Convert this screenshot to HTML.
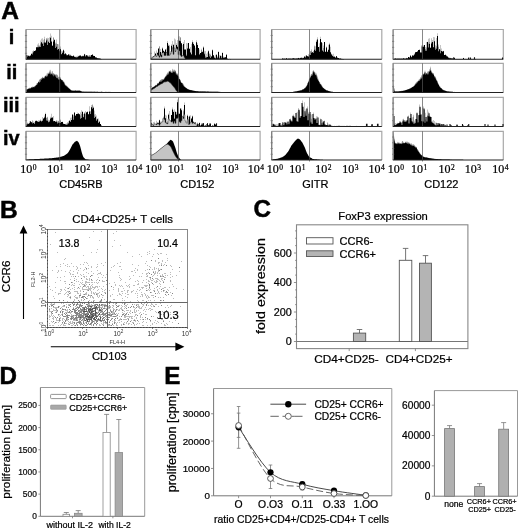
<!DOCTYPE html>
<html><head><meta charset="utf-8"><style>
html,body{margin:0;padding:0;background:#fff;}
svg{display:block;will-change:transform;}
text{font-family:"Liberation Sans", sans-serif;}
text:not([stroke]){stroke:#000;stroke-width:0.22px;}
text[fill="#333"]{stroke:none;}
text.sf{font-family:"Liberation Serif", serif;}
</style></head><body>
<svg width="520" height="529" viewBox="0 0 520 529">
<rect width="520" height="529" fill="#fff"/>
<path d="M25.7 29.5H136.1V59.3" fill="none" stroke="#a8a8a8" stroke-width="1.2"/>
<path d="M26 59.3L26 56.2L26.5 56.2L26.5 56.24L27 56.24L27 55.24L27.5 55.24L27.5 55.02L28 55.02L28 55.66L28.5 55.66L28.5 56.35L29 56.35L29 56.87L29.5 56.87L29.5 55.5L30 55.5L30 56.61L30.5 56.61L30.5 55.88L31 55.88L31 55.05L31.5 55.05L31.5 54.11L32 54.11L32 51.32L32.5 51.32L32.5 52.89L33 52.89L33 50.79L33.5 50.79L33.5 50.4L34 50.4L34 51.49L34.5 51.49L34.5 51.09L35 51.09L35 50.38L35.5 50.38L35.5 51.5L36 51.5L36 48.72L36.5 48.72L36.5 50.79L37 50.79L37 47.38L37.5 47.38L37.5 44.44L38 44.44L38 43.33L38.5 43.33L38.5 45.51L39 45.51L39 46.08L39.5 46.08L39.5 45.24L40 45.24L40 43.53L40.5 43.53L40.5 40.61L41 40.61L41 46.34L41.5 46.34L41.5 38.8L42 38.8L42 38.13L42.5 38.13L42.5 43.31L43 43.31L43 39.77L43.5 39.77L43.5 42.41L44 42.41L44 38.94L44.5 38.94L44.5 36.83L45 36.83L45 42.83L45.5 42.83L45.5 42.18L46 42.18L46 38.3L46.5 38.3L46.5 38.38L47 38.38L47 37.8L47.5 37.8L47.5 39.6L48 39.6L48 42.91L48.5 42.91L48.5 37.94L49 37.94L49 37.33L49.5 37.33L49.5 42.92L50 42.92L50 37.8L50.5 37.8L50.5 33.49L51 33.49L51 35.81L51.5 35.81L51.5 40.96L52 40.96L52 45.17L52.5 45.17L52.5 45.18L53 45.18L53 37.63L53.5 37.63L53.5 37.22L54 37.22L54 44.69L54.5 44.69L54.5 40.83L55 40.83L55 42.56L55.5 42.56L55.5 43.63L56 43.63L56 39.58L56.5 39.58L56.5 43.48L57 43.48L57 44.11L57.5 44.11L57.5 43.94L58 43.94L58 44.28L58.5 44.28L58.5 48.89L59 48.89L59 48.36L59.5 48.36L59.5 50.19L60 50.19L60 46.41L60.5 46.41L60.5 48.7L61 48.7L61 50.69L61.5 50.69L61.5 53.94L62 53.94L62 50.98L62.5 50.98L62.5 52.87L63 52.87L63 49.3L63.5 49.3L63.5 52.11L64 52.11L64 54.28L64.5 54.28L64.5 51.01L65 51.01L65 53.53L65.5 53.53L65.5 54.35L66 54.35L66 53.98L66.5 53.98L66.5 54.05L67 54.05L67 54.94L67.5 54.94L67.5 55.44L68 55.44L68 54.76L68.5 54.76L68.5 54.2L69 54.2L69 53.88L69.5 53.88L69.5 56.18L70 56.18L70 54.58L70.5 54.58L70.5 55.93L71 55.93L71 55.31L71.5 55.31L71.5 56.52L72 56.52L72 56.4L72.5 56.4L72.5 56.26L73 56.26L73 55.78L73.5 55.78L73.5 55.53L74 55.53L74 56.7L74.5 56.7L74.5 55.9L75 55.9L75 56.63L75.5 56.63L75.5 56.67L76 56.67L76 56.97L76.5 56.97L76.5 56.31L77 56.31L77 55.85L77.5 55.85L77.5 57.02L78 57.02L78 56.01L78.5 56.01L78.5 55.64L79 55.64L79 55.5L79.5 55.5L79.5 56.58L80 56.58L80 55.92L80.5 55.92L80.5 56.35L81 56.35L81 56.35L81.5 56.35L81.5 56.41L82 56.41L82 55.5L82.5 55.5L82.5 56.32L83 56.32L83 55.58L83.5 55.58L83.5 56.08L84 56.08L84 53.8L84.5 53.8L84.5 56.26L85 56.26L85 55.68L85.5 55.68L85.5 54.74L86 54.74L86 55.44L86.5 55.44L86.5 55.1L87 55.1L87 54.97L87.5 54.97L87.5 55.25L88 55.25L88 56.57L88.5 56.57L88.5 55.62L89 55.62L89 55.42L89.5 55.42L89.5 55.04L90 55.04L90 56.45L90.5 56.45L90.5 54.99L91 54.99L91 55.57L91.5 55.57L91.5 55.07L92 55.07L92 54.3L92.5 54.3L92.5 54.27L93 54.27L93 55.14L93.5 55.14L93.5 56.04L94 56.04L94 56.9L94.5 56.9L94.5 55.89L95 55.89L95 57.1L95.5 57.1L95.5 57.37L96 57.37L96 57.34L96.5 57.34L96.5 57.49L97 57.49L97 57.9L97.5 57.9L97.5 58.39L98 58.39L98 58.12L98.5 58.12L98.5 58.26L99 58.26L99 58.65L99.5 58.65L99.5 58.46L100 58.46L100 58.73L100.5 58.73L100.5 58.66L101 58.66L101 58.94L101.5 58.94L101.5 59.3 Z" fill="#8c8c8c"/>
<path d="M26 59.3L26 54.94L27 54.94L27 56.58L28 56.58L28 55.79L29 55.79L29 56.19L30 56.19L30 55.44L31 55.44L31 53.8L32 53.8L32 54.44L33 54.44L33 52.25L34 52.25L34 51.05L35 51.05L35 50.39L36 50.39L36 47.22L37 47.22L37 47.21L38 47.21L38 47.16L39 47.16L39 46.96L40 46.96L40 47.03L41 47.03L41 42.2L42 42.2L42 43.65L43 43.65L43 45.94L44 45.94L44 42.41L45 42.41L45 42.71L46 42.71L46 40.4L47 40.4L47 45.04L48 45.04L48 41.73L49 41.73L49 42.93L50 42.93L50 37.7L51 37.7L51 41.85L52 41.85L52 46.03L53 46.03L53 41.52L54 41.52L54 39.84L55 39.84L55 48.11L56 48.11L56 46.69L57 46.69L57 49.85L58 49.85L58 49.05L59 49.05L59 51.27L60 51.27L60 49.17L61 49.17L61 54.19L62 54.19L62 52.63L63 52.63L63 50.3L64 50.3L64 54.28L65 54.28L65 53.45L66 53.45L66 55.13L67 55.13L67 55.16L68 55.16L68 54.59L69 54.59L69 55.41L70 55.41L70 55.49L71 55.49L71 55.94L72 55.94L72 56.35L73 56.35L73 55.69L74 55.69L74 56.95L75 56.95L75 57.17L76 57.17L76 57.54L77 57.54L77 57.29L78 57.29L78 56.53L79 56.53L79 55.73L80 55.73L80 55.41L81 55.41L81 56.42L82 56.42L82 56.34L83 56.34L83 56.22L84 56.22L84 54.35L85 54.35L85 56.47L86 56.47L86 55.29L87 55.29L87 56.16L88 56.16L88 56.75L89 56.75L89 56.67L90 56.67L90 56.65L91 56.65L91 55.08L92 55.08L92 54.8L93 54.8L93 55.99L94 55.99L94 55.97L95 55.97L95 57.41L96 57.41L96 57.87L97 57.87L97 58.13L98 58.13L98 58.59L99 58.59L99 58.44L100 58.44L100 58.84L101 58.84L101 58.99L101.5 58.99L101.5 59.3 Z" fill="#000"/>
<path d="M59.7 29.5V59.3" stroke="#555" stroke-width="0.7" fill="none"/>
<path d="M26 29.5V59.3" fill="none" stroke="#808080" stroke-width="1.4"/>
<path d="M25.7 59.3H136.1" fill="none" stroke="#222" stroke-width="1.1"/>
<path d="M24.9 35.46h2.2M24.9 41.42h2.2M24.9 47.38h2.2M24.9 53.34h2.2" stroke="#777" stroke-width="0.8"/>
<path d="M25.7 63.3H136.1V92.5" fill="none" stroke="#a8a8a8" stroke-width="1.2"/>
<path d="M26 92.5L26 89.51L26.5 89.37L27 89.02L27.5 89.04L28 88.56L28.5 88.83L29 88.05L29.5 87.79L30 87.8L30.5 87.68L31 87.88L31.5 87.14L32 86.79L32.5 86.48L33 86.92L33.5 86.94L34 86.1L34.5 86.27L35 86.03L35.5 85.25L36 85.42L36.5 83.74L37 83.03L37.5 83.24L38 82.38L38.5 81.43L39 80.46L39.5 79.48L40 79.37L40.5 78.96L41 78.27L41.5 77.91L42 77.75L42.5 76.6L43 77.46L43.5 77.89L44 77.01L44.5 76.52L45 76.27L45.5 75.72L46 75.54L46.5 75.4L47 72.46L47.5 73.33L48 74.65L48.5 73.33L49 71.97L49.5 71.5L50 69.58L50.5 70.15L51 72.93L51.5 73.7L52 70.66L52.5 71.33L53 73.81L53.5 73.28L54 72.97L54.5 75.07L55 73.91L55.5 74.68L56 74.83L56.5 74.02L57 75.3L57.5 74.58L58 76.24L58.5 77.76L59 76.36L59.5 76.73L60 77.21L60.5 77.33L61 78.66L61.5 79.88L62 80.05L62.5 79.89L63 80.13L63.5 81.73L64 81.53L64.5 82.38L65 83.55L65.5 85.11L66 85.65L66.5 85.1L67 86.51L67.5 86.59L68 86.98L68.5 87.54L69 87.86L69.5 88.93L70 88.73L70.5 89.49L71 89.94L71.5 90.52L72 90.53L72.5 90.31L73 90.69L73.5 90.43L74 90.65L74.5 90.7L75 90.31L75.5 90.39L76 90.41L76.5 90.31L77 90.35L77.5 90.36L78 90.6L78.5 90.33L79 90.55L79.5 90.49L80 90.57L80.5 91.02L81 91.12L81.5 91.35L82 91.48L82.5 91.64L83 91.61L83.5 91.62L84 91.6L84.5 91.63L85 91.68L85.5 91.69L86 91.57L86.5 91.71L87 91.67L87.5 91.72L88 91.69L88.5 91.73L89 91.73L89.5 91.63L90 91.77L90.5 91.68L91 91.78L91.5 91.68L92 91.65L92.5 91.7L93 91.8L93.5 91.75L94 91.81L94.5 91.78L95 91.75L95.5 91.81L96 91.84L96.5 91.84L97 91.78L97.5 91.83L98 91.81L98.5 91.8L99 91.8L99.5 91.77L100 91.8L100.5 91.89L101 91.83L101.5 91.82L102 91.84L102.5 91.78L103 91.8L103.5 91.9L104 91.91L104.5 91.9L105 91.87L105.5 91.81L106 91.84L106.5 91.83L107 91.9L107.5 91.87L108 91.92L108.5 91.86L109 91.87L109.5 91.85L110 91.91L110.5 91.86L111 91.91L111.5 91.93L112 91.93L112.5 91.88L113 91.89L113.5 91.9L114 91.91L114.5 91.9L115 91.98L115.5 91.96L116 91.92L116.5 91.97L117 91.97L117.5 91.99L118 91.95L118.5 91.9L119 91.97L119.5 91.99L120 91.98L120.5 91.92L121 91.92L121.5 91.92L122 92.01L122.5 91.97L123 91.99L123.5 92.02L124 91.97L124.5 91.94L125 91.97L125.5 91.96L126 92.04L126.5 91.99L127 91.98L127.5 92.01L128 92.05L128.5 92.06L129 92.06L129.5 92.06L130 92.04L130.5 92L131 91.99L131.5 92L132 92.05L132.5 92.06L133 92.09L133.5 92.06L134 92.01L134.5 92.08L135 92.09L135 92.5 Z" fill="#8c8c8c"/>
<path d="M26 92.5L26 89.89L26.5 89.78L27 89.5L27.5 89.55L28 88.96L28.5 88.75L29 88.68L29.5 88.87L30 88.4L30.5 88.39L31 88.31L31.5 87.5L32 87.29L32.5 88.05L33 87.07L33.5 87.17L34 87.24L34.5 87.2L35 86.45L35.5 86.2L36 85.37L36.5 84.88L37 85.19L37.5 83.64L38 82.67L38.5 82.03L39 82.1L39.5 82.72L40 82.26L40.5 81.4L41 78.83L41.5 80.1L42 79.58L42.5 77.75L43 79.01L43.5 77.97L44 77.94L44.5 78.7L45 76.73L45.5 75.51L46 77.36L46.5 76.78L47 75.77L47.5 76.78L48 74.87L48.5 73.39L49 73.65L49.5 73.8L50 72.26L50.5 74.95L51 73.55L51.5 74.48L52 73.83L52.5 75.82L53 73.6L53.5 76.33L54 76.43L54.5 74.59L55 74.51L55.5 76.59L56 77.01L56.5 77.9L57 78.16L57.5 77.49L58 79.13L58.5 79.64L59 79.06L59.5 80.17L60 79.07L60.5 78.82L61 79.14L61.5 80.09L62 80.61L62.5 80.58L63 82.37L63.5 81.62L64 83.22L64.5 84.04L65 85.22L65.5 85.45L66 85.74L66.5 86.47L67 86.38L67.5 87.11L68 88.01L68.5 88.22L69 88.33L69.5 89.02L70 89.35L70.5 90.04L71 90.19L71.5 90.58L72 90.75L72.5 90.75L73 90.69L73.5 90.7L74 90.72L74.5 90.84L75 90.74L75.5 90.55L76 90.75L76.5 90.89L77 90.9L77.5 90.71L78 90.88L78.5 90.86L79 90.86L79.5 90.77L80 90.75L80.5 91.07L81 91.24L81.5 91.4L82 91.55L82.5 91.72L83 91.68L83.5 91.66L84 91.69L84.5 91.74L85 91.71L85.5 91.68L86 91.8L86.5 91.79L87 91.74L87.5 91.73L88 91.75L88.5 91.76L89 91.73L89.5 91.79L90 91.74L90.5 91.73L91 91.81L91.5 91.75L92 91.78L92.5 91.76L93 91.88L93.5 91.77L94 91.8L94.5 91.77L95 91.78L95.5 91.88L96 91.83L96.5 91.9L97 91.85L97.5 91.82L98 91.91L98.5 91.9L99 91.94L99.5 91.93L100 91.93L100.5 91.95L101 91.85L101.5 91.86L102 91.92L102.5 91.89L103 91.89L103.5 91.92L104 91.93L104.5 91.91L105 91.92L105.5 91.96L106 91.95L106.5 91.92L107 91.93L107.5 91.98L108 91.93L108.5 91.91L109 91.91L109.5 91.94L110 92.01L110.5 91.97L111 92.01L111.5 92.02L112 92L112.5 91.98L113 91.95L113.5 91.97L114 92L114.5 91.96L115 91.99L115.5 91.99L116 92.02L116.5 92L117 92.02L117.5 91.98L118 92.01L118.5 92.01L119 92.01L119.5 92.02L120 92L120.5 92L121 91.99L121.5 92.03L122 92L122.5 91.99L123 91.99L123.5 92.02L124 92.08L124.5 92.01L125 92.01L125.5 92.09L126 92.07L126.5 92.07L127 92.04L127.5 92.05L128 92.08L128.5 92.09L129 92.1L129.5 92.11L130 92.05L130.5 92.04L131 92.1L131.5 92.06L132 92.05L132.5 92.12L133 92.09L133.5 92.1L134 92.06L134.5 92.07L135 92.14L135 92.5 Z" fill="#000"/>
<path d="M59.7 63.3V92.5" stroke="#555" stroke-width="0.7" fill="none"/>
<path d="M26 63.3V92.5" fill="none" stroke="#808080" stroke-width="1.4"/>
<path d="M25.7 92.5H136.1" fill="none" stroke="#222" stroke-width="1.1"/>
<path d="M24.9 69.14h2.2M24.9 74.98h2.2M24.9 80.82h2.2M24.9 86.66h2.2" stroke="#777" stroke-width="0.8"/>
<path d="M25.7 97.3H136.1V126.5" fill="none" stroke="#a8a8a8" stroke-width="1.2"/>
<path d="M26 126.5L26 124.41L26.5 124.41L26.5 124.89L27 124.89L27 123.29L27.5 123.29L27.5 122.39L28 122.39L28 123.14L28.5 123.14L28.5 123.69L29 123.69L29 123.48L29.5 123.48L29.5 121.14L30 121.14L30 121.44L30.5 121.44L30.5 120.96L31 120.96L31 122.51L31.5 122.51L31.5 122.7L32 122.7L32 120.23L32.5 120.23L32.5 121.41L33 121.41L33 123.49L33.5 123.49L33.5 121.44L34 121.44L34 122.5L34.5 122.5L34.5 122.51L35 122.51L35 121.1L35.5 121.1L35.5 120.62L36 120.62L36 123.46L36.5 123.46L36.5 122.88L37 122.88L37 121.43L37.5 121.43L37.5 122.01L38 122.01L38 120.26L38.5 120.26L38.5 121.81L39 121.81L39 120.48L39.5 120.48L39.5 120.81L40 120.81L40 120.88L40.5 120.88L40.5 119.19L41 119.19L41 120.39L41.5 120.39L41.5 121.43L42 121.43L42 117.11L42.5 117.11L42.5 121.08L43 121.08L43 120.01L43.5 120.01L43.5 118.75L44 118.75L44 115.43L44.5 115.43L44.5 118.89L45 118.89L45 116.19L45.5 116.19L45.5 112.7L46 112.7L46 117.56L46.5 117.56L46.5 118.08L47 118.08L47 117.45L47.5 117.45L47.5 116.78L48 116.78L48 121.38L48.5 121.38L48.5 119.85L49 119.85L49 120.38L49.5 120.38L49.5 120.36L50 120.36L50 116.86L50.5 116.86L50.5 117.94L51 117.94L51 113.79L51.5 113.79L51.5 119.38L52 119.38L52 119.33L52.5 119.33L52.5 119.66L53 119.66L53 120.9L53.5 120.9L53.5 115.88L54 115.88L54 120.99L54.5 120.99L54.5 121.49L55 121.49L55 121.61L55.5 121.61L55.5 122.41L56 122.41L56 119.98L56.5 119.98L56.5 121.34L57 121.34L57 120.84L57.5 120.84L57.5 122L58 122L58 121.09L58.5 121.09L58.5 120.83L59 120.83L59 122.66L59.5 122.66L59.5 123.23L60 123.23L60 120.49L60.5 120.49L60.5 119.42L61 119.42L61 122.65L61.5 122.65L61.5 123.21L62 123.21L62 123.2L62.5 123.2L62.5 121.45L63 121.45L63 123.43L63.5 123.43L63.5 123.59L64 123.59L64 124.42L64.5 124.42L64.5 124.52L65 124.52L65 123.73L65.5 123.73L65.5 124.56L66 124.56L66 123.33L66.5 123.33L66.5 124.64L67 124.64L67 123.23L67.5 123.23L67.5 122.04L68 122.04L68 122.81L68.5 122.81L68.5 121.27L69 121.27L69 122.56L69.5 122.56L69.5 120.24L70 120.24L70 117.7L70.5 117.7L70.5 121.1L71 121.1L71 120.82L71.5 120.82L71.5 117.61L72 117.61L72 119.53L72.5 119.53L72.5 117.38L73 117.38L73 114.8L73.5 114.8L73.5 116.61L74 116.61L74 117.49L74.5 117.49L74.5 118.88L75 118.88L75 115.1L75.5 115.1L75.5 118L76 118L76 117.62L76.5 117.62L76.5 114.05L77 114.05L77 118.32L77.5 118.32L77.5 112.5L78 112.5L78 115.08L78.5 115.08L78.5 117.66L79 117.66L79 115.01L79.5 115.01L79.5 116.22L80 116.22L80 115.43L80.5 115.43L80.5 112.29L81 112.29L81 113.94L81.5 113.94L81.5 110.17L82 110.17L82 117.33L82.5 117.33L82.5 114.99L83 114.99L83 114.12L83.5 114.12L83.5 116.73L84 116.73L84 112L84.5 112L84.5 117.9L85 117.9L85 110.92L85.5 110.92L85.5 114.34L86 114.34L86 118.64L86.5 118.64L86.5 111.93L87 111.93L87 112L87.5 112L87.5 118.18L88 118.18L88 116.73L88.5 116.73L88.5 114.31L89 114.31L89 106.23L89.5 106.23L89.5 114.55L90 114.55L90 110.72L90.5 110.72L90.5 111.43L91 111.43L91 109.55L91.5 109.55L91.5 105L92 105L92 104.23L92.5 104.23L92.5 105.15L93 105.15L93 106.57L93.5 106.57L93.5 107.06L94 107.06L94 114.57L94.5 114.57L94.5 110.61L95 110.61L95 117.51L95.5 117.51L95.5 114.01L96 114.01L96 115.62L96.5 115.62L96.5 119.54L97 119.54L97 118.21L97.5 118.21L97.5 119.72L98 119.72L98 118.62L98.5 118.62L98.5 122.35L99 122.35L99 120.69L99.5 120.69L99.5 122.37L100 122.37L100 124.67L100.5 124.67L100.5 124.64L101 124.64L101 125.54L101.5 125.54L101.5 125.84L102 125.84L102 125.89L102.5 125.89L102.5 126.3L103 126.3L103 126.5 Z" fill="#8c8c8c"/>
<path d="M26 126.5L26 124.6L27 124.6L27 124.13L28 124.13L28 123.98L29 123.98L29 123.27L30 123.27L30 121.47L31 121.47L31 122.27L32 122.27L32 123.53L33 123.53L33 123.02L34 123.02L34 123.9L35 123.9L35 121.19L36 121.19L36 120.83L37 120.83L37 121.4L38 121.4L38 122.08L39 122.08L39 121.7L40 121.7L40 120.72L41 120.72L41 121.52L42 121.52L42 120.73L43 120.73L43 118.58L44 118.58L44 117.51L45 117.51L45 114.08L46 114.08L46 120.59L47 120.59L47 120.71L48 120.71L48 122.14L49 122.14L49 121.69L50 121.69L50 118.86L51 118.86L51 117.85L52 117.85L52 117.54L53 117.54L53 121.34L54 121.34L54 121L55 121L55 121.69L56 121.69L56 121.86L57 121.86L57 123.56L58 123.56L58 122.87L59 122.87L59 122.86L60 122.86L60 122.9L61 122.9L61 121.9L62 121.9L62 122.08L63 122.08L63 124.1L64 124.1L64 124.03L65 124.03L65 124.47L66 124.47L66 124.65L67 124.65L67 124.52L68 124.52L68 123.44L69 123.44L69 120.66L70 120.66L70 121.89L71 121.89L71 119.96L72 119.96L72 114.62L73 114.62L73 119.64L74 119.64L74 112.43L75 112.43L75 115.75L76 115.75L76 114.03L77 114.03L77 113.9L78 113.9L78 113.44L79 113.44L79 114.25L80 114.25L80 118.77L81 118.77L81 117.95L82 117.95L82 111.64L83 111.64L83 117.36L84 117.36L84 113.45L85 113.45L85 119.52L86 119.52L86 112.52L87 112.52L87 111.81L88 111.81L88 114.14L89 114.14L89 111.55L90 111.55L90 113.89L91 113.89L91 107.15L92 107.15L92 108.66L93 108.66L93 108.05L94 108.05L94 118.03L95 118.03L95 116.65L96 116.65L96 120.77L97 120.77L97 119.27L98 119.27L98 122.92L99 122.92L99 121.85L100 121.85L100 124.09L101 124.09L101 125.68L102 125.68L102 126.11L103 126.11L103 126.5 Z" fill="#000"/>
<path d="M59.7 97.3V126.5" stroke="#555" stroke-width="0.7" fill="none"/>
<path d="M26 97.3V126.5" fill="none" stroke="#808080" stroke-width="1.4"/>
<path d="M25.7 126.5H136.1" fill="none" stroke="#222" stroke-width="1.1"/>
<path d="M24.9 103.14h2.2M24.9 108.98h2.2M24.9 114.82h2.2M24.9 120.66h2.2" stroke="#777" stroke-width="0.8"/>
<path d="M25.7 131.3H136.1V160" fill="none" stroke="#a8a8a8" stroke-width="1.2"/>
<path d="M26 160L26 159.5L26.5 159.48L27 159.46L27.5 159.43L28 159.41L28.5 159.39L29 159.37L29.5 159.34L30 159.32L30.5 159.3L31 159.28L31.5 159.25L32 159.23L32.5 159.21L33 159.19L33.5 159.16L34 159.14L34.5 159.12L35 159.1L35.5 159.07L36 159.05L36.5 159.03L37 159.01L37.5 158.99L38 158.96L38.5 158.94L39 158.92L39.5 158.89L40 158.87L40.5 158.84L41 158.81L41.5 158.78L42 158.75L42.5 158.72L43 158.7L43.5 158.67L44 158.64L44.5 158.61L45 158.58L45.5 158.55L46 158.52L46.5 158.5L47 158.47L47.5 158.44L48 158.41L48.5 158.38L49 158.35L49.5 158.33L50 158.3L50.5 158.27L51 158.24L51.5 158.21L52 158.16L52.5 158.1L53 158.03L53.5 157.97L54 157.9L54.5 157.84L55 157.77L55.5 157.71L56 157.64L56.5 157.58L57 157.51L57.5 157.45L58 157.38L58.5 157.32L59 157.25L59.5 157.17L60 157.02L60.5 156.87L61 156.71L61.5 156.56L62 156.41L62.5 156.26L63 156.1L63.5 155.95L64 155.8L64.5 155.44L65 155.09L65.5 154.73L66 154.38L66.5 154.02L67 153.67L67.5 153.31L68 152.78L68.5 151.96L69 151.15L69.5 150.34L70 149.53L70.5 148.6L71 147.6L71.5 146.6L72 145.6L72.5 144.6L73 143.99L73.5 143.38L74 142.77L74.5 142.17L75 141.71L75.5 141.5L76 141.28L76.5 141.06L77 140.84L77.5 141.2L78 141.7L78.5 142.2L79 143.28L79.5 144.49L80 145.71L80.5 147.42L81 149.45L81.5 151.49L82 153.22L82.5 154.75L83 156.29L83.5 157.2L84 157.7L84.5 158.2L85 158.7L85.5 159.2L86 159.3L86.5 159.41L87 159.51L87.5 159.62L88 159.72L88.5 159.83L89 159.87L89.5 159.89L90 159.91L90.5 159.93L91 159.96L91.5 159.98L92 160L92 160 Z" fill="#000"/>
<path d="M59.7 131.3V161.5" stroke="#555" stroke-width="0.7" fill="none"/>
<path d="M26 131.3V160" fill="none" stroke="#808080" stroke-width="1.4"/>
<path d="M25.7 160H136.1" fill="none" stroke="#222" stroke-width="1.1"/>
<path d="M24.9 137.04h2.2M24.9 142.78h2.2M24.9 148.52h2.2M24.9 154.26h2.2" stroke="#777" stroke-width="0.8"/>
<path d="M150.5 29.5H260.1V59.3" fill="none" stroke="#a8a8a8" stroke-width="1.2"/>
<path d="M151 59.3L151 56.69L151.5 56.69L151.5 57.38L152 57.38L152 58.25L152.5 58.25L152.5 56.56L153 56.56L153 57.66L153.5 57.66L153.5 56.04L154 56.04L154 51.39L154.5 51.39L154.5 55.4L155 55.4L155 57.58L155.5 57.58L155.5 57.15L156 57.15L156 50.46L156.5 50.46L156.5 57L157 57L157 55.59L157.5 55.59L157.5 57.07L158 57.07L158 49.3L158.5 49.3L158.5 55.21L159 55.21L159 46.17L159.5 46.17L159.5 46.53L160 46.53L160 56.39L160.5 56.39L160.5 48.93L161 48.93L161 55.46L161.5 55.46L161.5 52.23L162 52.23L162 47.3L162.5 47.3L162.5 51.61L163 51.61L163 51.46L163.5 51.46L163.5 53.11L164 53.11L164 52.77L164.5 52.77L164.5 53.34L165 53.34L165 55.22L165.5 55.22L165.5 55.22L166 55.22L166 55.91L166.5 55.91L166.5 48.4L167 48.4L167 42.79L167.5 42.79L167.5 40.9L168 40.9L168 44.3L168.5 44.3L168.5 47.56L169 47.56L169 46.54L169.5 46.54L169.5 44.96L170 44.96L170 54.46L170.5 54.46L170.5 50.93L171 50.93L171 44.3L171.5 44.3L171.5 55.32L172 55.32L172 40.98L172.5 40.98L172.5 47.01L173 47.01L173 45.73L173.5 45.73L173.5 47.78L174 47.78L174 55.03L174.5 55.03L174.5 38.4L175 38.4L175 55.14L175.5 55.14L175.5 39.41L176 39.41L176 43.3L176.5 43.3L176.5 50.02L177 50.02L177 40L177.5 40L177.5 52.44L178 52.44L178 40.54L178.5 40.54L178.5 36.62L179 36.62L179 53.2L179.5 53.2L179.5 36.17L180 36.17L180 37.24L180.5 37.24L180.5 37.5L181 37.5L181 50.32L181.5 50.32L181.5 51.9L182 51.9L182 45.07L182.5 45.07L182.5 55.33L183 55.33L183 42.3L183.5 42.3L183.5 54.69L184 54.69L184 40.12L184.5 40.12L184.5 55.37L185 55.37L185 55.26L185.5 55.26L185.5 50.18L186 50.18L186 54.56L186.5 54.56L186.5 42.92L187 42.92L187 43.24L187.5 43.24L187.5 54.46L188 54.46L188 45.3L188.5 45.3L188.5 43.85L189 43.85L189 55.94L189.5 55.94L189.5 51.28L190 51.28L190 55.85L190.5 55.85L190.5 46.95L191 46.95L191 43.88L191.5 43.88L191.5 54.3L192 54.3L192 56.08L192.5 56.08L192.5 40.3L193 40.3L193 42.3L193.5 42.3L193.5 56.23L194 56.23L194 50.86L194.5 50.86L194.5 49.47L195 49.47L195 56.11L195.5 56.11L195.5 47.78L196 47.78L196 44.17L196.5 44.17L196.5 40.3L197 40.3L197 43.3L197.5 43.3L197.5 45.86L198 45.86L198 54.08L198.5 54.08L198.5 50.8L199 50.8L199 49.47L199.5 49.47L199.5 54.76L200 54.76L200 56.77L200.5 56.77L200.5 56.24L201 56.24L201 48.78L201.5 48.78L201.5 49.98L202 49.98L202 51.06L202.5 51.06L202.5 56.79L203 56.79L203 46.3L203.5 46.3L203.5 53.09L204 53.09L204 50.86L204.5 50.86L204.5 52.72L205 52.72L205 50.9L205.5 50.9L205.5 56.3L206 56.3L206 53.68L206.5 53.68L206.5 56.99L207 56.99L207 57.77L207.5 57.77L207.5 52.41L208 52.41L208 50.3L208.5 50.3L208.5 57.36L209 57.36L209 53.23L209.5 53.23L209.5 53.98L210 53.98L210 53.7L210.5 53.7L210.5 55L211 55L211 57.61L211.5 57.61L211.5 56.02L212 56.02L212 49.3L212.5 49.3L212.5 54L213 54L213 57.38L213.5 57.38L213.5 57.51L214 57.51L214 56.95L214.5 56.95L214.5 56.48L215 56.48L215 58.22L215.5 58.22L215.5 54.78L216 54.78L216 54.59L216.5 54.59L216.5 58.24L217 58.24L217 56.22L217.5 56.22L217.5 56.88L218 56.88L218 51.3L218.5 51.3L218.5 57.53L219 57.53L219 55.16L219.5 55.16L219.5 57.38L220 57.38L220 56.01L220.5 56.01L220.5 56.66L221 56.66L221 56.5L221.5 56.5L221.5 55.76L222 55.76L222 52.3L222.5 52.3L222.5 57.74L223 57.74L223 58.53L223.5 58.53L223.5 56.44L224 56.44L224 57.67L224.5 57.67L224.5 58.72L225 58.72L225 56.91L225.5 56.91L225.5 58.45L226 58.45L226 54.3L226.5 54.3L226.5 58.68L227 58.68L227 58.79L227.5 58.79L227.5 58.79L228 58.79L228 58.91L228.5 58.91L228.5 58.96L229 58.96L229 58.88L229.5 58.88L229.5 58.85L230 58.85L230 58.98L230.5 58.98L230.5 59.2L231 59.2L231 59.23L231.5 59.23L231.5 59.29L232 59.29L232 59.3 Z" fill="#8c8c8c"/>
<path d="M151 59.3L151 57.91L152 57.91L152 57.91L153 57.91L153 56.23L154 56.23L154 56.83L155 56.83L155 53.51L156 53.51L156 56.82L157 56.82L157 52.76L158 52.76L158 48.45L159 48.45L159 55.7L160 55.7L160 52.08L161 52.08L161 54.68L162 54.68L162 48.5L163 48.5L163 50.81L164 50.81L164 51.76L165 51.76L165 49.5L166 49.5L166 52.31L167 52.31L167 43.1L168 43.1L168 45.8L169 45.8L169 55.77L170 55.77L170 53.73L171 53.73L171 45.8L172 45.8L172 55.84L173 55.84L173 44.78L174 44.78L174 50.5L175 50.5L175 50.63L176 50.63L176 44.9L177 44.9L177 46.72L178 46.72L178 51.78L179 51.78L179 40.73L180 40.73L180 41.3L181 41.3L181 43.23L182 43.23L182 55.7L183 55.7L183 44L184 44L184 49.54L185 49.54L185 49.62L186 49.62L186 55.84L187 55.84L187 48.39L188 48.39L188 43.09L189 43.09L189 48.69L190 48.69L190 52.39L191 52.39L191 54.42L192 54.42L192 42.2L193 42.2L193 44L194 44L194 45.58L195 45.58L195 55.2L196 55.2L196 42.2L197 42.2L197 44.9L198 44.9L198 47.96L199 47.96L199 54.51L200 54.51L200 53.07L201 53.07L201 52.22L202 52.22L202 51.94L203 51.94L203 47.6L204 47.6L204 54.25L205 54.25L205 57.78L206 57.78L206 57.53L207 57.53L207 56.93L208 56.93L208 51.2L209 51.2L209 56.4L210 56.4L210 57.99L211 57.99L211 56.56L212 56.56L212 50.3L213 50.3L213 55.36L214 55.36L214 58.1L215 58.1L215 58.39L216 58.39L216 54.86L217 54.86L217 58.14L218 58.14L218 52.1L219 52.1L219 58.52L220 58.52L220 55.86L221 55.86L221 58.15L222 58.15L222 53L223 53L223 57.87L224 57.87L224 57.53L225 57.53L225 57.23L226 57.23L226 54.8L227 54.8L227 58.78L228 58.78L228 58.99L229 58.99L229 59.14L230 59.14L230 59.1L231 59.1L231 59.25L232 59.25L232 59.3 Z" fill="#000"/>
<path d="M151 59.3L151 58.55L152 58.55L152 57.74L153 57.74L153 56.53L154 56.53L154 56.12L155 56.12L155 55.62L156 55.62L156 56.44L157 56.44L157 54.87L158 54.87L158 55.71L159 55.71L159 57.16L160 57.16L160 55.65L161 55.65L161 57.04L162 57.04L162 52.91L163 52.91L163 52.55L164 52.55L164 55.53L165 55.53L165 55.46L166 55.46L166 52.6L167 52.6L167 55.57L168 55.57L168 55.51L169 55.51L169 55.27L170 55.27L170 54.11L171 54.11L171 51.86L172 51.86L172 48.74L173 48.74L173 54.36L174 54.36L174 47.94L175 47.94L175 51.4L176 51.4L176 48.45L177 48.45L177 49.34L178 49.34L178 54.62L179 54.62L179 51.03L180 51.03L180 55.32L181 55.32L181 56.54L182 56.54L182 55.85L183 55.85L183 55.7L184 55.7L184 57.54L185 57.54L185 58.93L186 58.93L186 59.3 Z" fill="#c4c4c4" stroke="#333" stroke-width="0.45"/>
<path d="M178.5 29.5V59.3" stroke="#555" stroke-width="0.7" fill="none"/>
<path d="M150.8 29.5V59.3" fill="none" stroke="#808080" stroke-width="1.4"/>
<path d="M150.5 59.3H260.1" fill="none" stroke="#222" stroke-width="1.1"/>
<path d="M149.7 35.46h2.2M149.7 41.42h2.2M149.7 47.38h2.2M149.7 53.34h2.2" stroke="#777" stroke-width="0.8"/>
<path d="M150.5 63.3H260.1V92.5" fill="none" stroke="#a8a8a8" stroke-width="1.2"/>
<path d="M151 92.5L151 88.63L151.5 88.29L152 87.86L152.5 87.12L153 87.2L153.5 86.8L154 85.92L154.5 86.26L155 85.47L155.5 84.83L156 84.99L156.5 84.82L157 84.4L157.5 82.95L158 83.05L158.5 83.07L159 82.75L159.5 80.91L160 80.61L160.5 79.75L161 79.97L161.5 79.17L162 79.09L162.5 79.09L163 79.28L163.5 78.9L164 78.47L164.5 77.57L165 76.85L165.5 76.57L166 75.16L166.5 74.6L167 73.41L167.5 71.98L168 73.9L168.5 72.57L169 70.3L169.5 72.13L170 72.32L170.5 69.64L171 70.89L171.5 71.74L172 71.66L172.5 68.44L173 69.54L173.5 71.37L174 68.83L174.5 70.41L175 69.81L175.5 70.65L176 72.94L176.5 72.39L177 74.04L177.5 73.06L178 75.41L178.5 76.91L179 76.15L179.5 79.05L180 79.79L180.5 79.74L181 81.75L181.5 82.55L182 83.3L182.5 82.82L183 83.55L183.5 84.34L184 85.29L184.5 86.24L185 86.79L185.5 87.16L186 87.89L186.5 87.68L187 88.64L187.5 88.79L188 89L188.5 89.37L189 89.28L189.5 89.64L190 89.78L190.5 90.01L191 90.13L191.5 90.39L192 90.24L192.5 90.4L193 90.68L193.5 90.63L194 90.74L194.5 90.74L195 90.92L195.5 90.99L196 91.06L196.5 91L197 91.02L197.5 91.24L198 91.26L198.5 91.28L199 91.31L199.5 91.38L200 91.4L200.5 91.36L201 91.33L201.5 91.41L202 91.38L202.5 91.36L203 91.4L203.5 91.5L204 91.49L204.5 91.47L205 91.43L205.5 91.48L206 91.59L206.5 91.5L207 91.53L207.5 91.52L208 91.63L208.5 91.55L209 91.57L209.5 91.69L210 91.62L210.5 91.68L211 91.62L211.5 91.65L212 91.63L212.5 91.66L213 91.76L213.5 91.77L214 91.75L214.5 91.79L215 91.8L215.5 91.78L216 91.8L216.5 91.73L217 91.74L217.5 91.83L218 91.77L218.5 91.81L219 91.8L219.5 91.82L220 91.89L220.5 91.87L221 91.88L221.5 91.92L222 91.91L222.5 91.88L223 91.92L223.5 91.93L224 91.9L224.5 91.91L225 91.99L225.5 91.98L226 91.97L226.5 91.99L227 92.01L227.5 92L228 91.99L228.5 92.02L229 92.07L229.5 92.06L230 92.05L230.5 92.1L231 92.07L231.5 92.11L232 92.14L232.5 92.13L233 92.15L233.5 92.14L234 92.14L234.5 92.16L235 92.17L235 92.5 Z" fill="#8c8c8c"/>
<path d="M151 92.5L151 88.76L151.5 88.36L152 87.79L152.5 87.77L153 87.41L153.5 87.02L154 87.04L154.5 86.43L155 85.98L155.5 85.49L156 85.83L156.5 85.2L157 85.05L157.5 83.75L158 83.46L158.5 83.93L159 82.17L159.5 81.75L160 81.79L160.5 81.43L161 81.79L161.5 81.65L162 80.34L162.5 80.81L163 80.17L163.5 79.68L164 79.72L164.5 78.41L165 78.02L165.5 76.52L166 76.68L166.5 75.8L167 75.56L167.5 74.55L168 74.51L168.5 74.44L169 71.78L169.5 71.16L170 71.49L170.5 71.76L171 72.83L171.5 72.97L172 72.66L172.5 73.22L173 71.13L173.5 72.39L174 71.15L174.5 72.69L175 71.08L175.5 71.55L176 74.63L176.5 74.84L177 73.81L177.5 75.84L178 75.47L178.5 77.72L179 79.28L179.5 79L180 79.63L180.5 81.45L181 82.6L181.5 83.08L182 82.99L182.5 83.9L183 85.27L183.5 85.71L184 86.43L184.5 87.04L185 86.98L185.5 87.82L186 87.91L186.5 88.35L187 88.87L187.5 88.93L188 89.59L188.5 89.5L189 89.87L189.5 89.88L190 90.09L190.5 90.21L191 90.11L191.5 90.31L192 90.6L192.5 90.58L193 90.83L193.5 90.84L194 90.78L194.5 90.89L195 91.07L195.5 90.93L196 91.16L196.5 91.2L197 91.15L197.5 91.29L198 91.35L198.5 91.45L199 91.48L199.5 91.41L200 91.48L200.5 91.44L201 91.49L201.5 91.49L202 91.43L202.5 91.51L203 91.51L203.5 91.49L204 91.6L204.5 91.62L205 91.52L205.5 91.55L206 91.64L206.5 91.66L207 91.61L207.5 91.59L208 91.7L208.5 91.62L209 91.65L209.5 91.69L210 91.72L210.5 91.77L211 91.79L211.5 91.69L212 91.78L212.5 91.74L213 91.8L213.5 91.75L214 91.78L214.5 91.82L215 91.85L215.5 91.8L216 91.87L216.5 91.87L217 91.84L217.5 91.83L218 91.86L218.5 91.9L219 91.85L219.5 91.93L220 91.95L220.5 91.94L221 91.93L221.5 91.97L222 91.97L222.5 91.97L223 91.96L223.5 92L224 92L224.5 91.96L225 91.97L225.5 92L226 92.01L226.5 92.03L227 92.07L227.5 92.08L228 92.1L228.5 92.05L229 92.07L229.5 92.06L230 92.13L230.5 92.1L231 92.12L231.5 92.12L232 92.15L232.5 92.13L233 92.18L233.5 92.17L234 92.17L234.5 92.17L235 92.19L235 92.5 Z" fill="#000"/>
<path d="M151 92.5L151 90.49L151.5 90.24L152 89.71L152.5 89.37L153 89.17L153.5 88.76L154 88.6L154.5 88.27L155 87.91L155.5 87.38L156 87.29L156.5 86.53L157 86.73L157.5 86.34L158 86.12L158.5 85.35L159 85.33L159.5 84.95L160 84.76L160.5 84.21L161 84.1L161.5 83.97L162 83.47L162.5 83.28L163 83.17L163.5 82.19L164 82.17L164.5 82.02L165 81.63L165.5 81.98L166 81.84L166.5 81.63L167 81.49L167.5 81.03L168 81.63L168.5 81.48L169 81.78L169.5 82.36L170 83.06L170.5 82.77L171 83.8L171.5 83.92L172 84.88L172.5 85.58L173 86.08L173.5 86.76L174 87.32L174.5 87.82L175 88.59L175.5 89.5L176 90.2L176.5 91.01L177 91.51L177.5 91.98L178 92.5L178 92.5 Z" fill="#c4c4c4" stroke="#333" stroke-width="0.5"/>
<path d="M178.5 63.3V92.5" stroke="#555" stroke-width="0.7" fill="none"/>
<path d="M150.8 63.3V92.5" fill="none" stroke="#808080" stroke-width="1.4"/>
<path d="M150.5 92.5H260.1" fill="none" stroke="#222" stroke-width="1.1"/>
<path d="M149.7 69.14h2.2M149.7 74.98h2.2M149.7 80.82h2.2M149.7 86.66h2.2" stroke="#777" stroke-width="0.8"/>
<path d="M150.5 97.3H260.1V126.5" fill="none" stroke="#a8a8a8" stroke-width="1.2"/>
<path d="M151 126.5L151 125.85L151.5 125.85L151.5 125.28L152 125.28L152 123.67L152.5 123.67L152.5 125.4L153 125.4L153 122.02L153.5 122.02L153.5 125.07L154 125.07L154 124.85L154.5 124.85L154.5 121.8L155 121.8L155 125.48L155.5 125.48L155.5 125.73L156 125.73L156 125.53L156.5 125.53L156.5 120.8L157 120.8L157 123.08L157.5 123.08L157.5 122.69L158 122.69L158 121.71L158.5 121.71L158.5 123.35L159 123.35L159 125.42L159.5 125.42L159.5 119.5L160 119.5L160 121.46L160.5 121.46L160.5 123.47L161 123.47L161 122.98L161.5 122.98L161.5 125.53L162 125.53L162 125.16L162.5 125.16L162.5 118.8L163 118.8L163 116.5L163.5 116.5L163.5 124.58L164 124.58L164 106.5L164.5 106.5L164.5 109.5L165 109.5L165 114.65L165.5 114.65L165.5 124.57L166 124.57L166 115.47L166.5 115.47L166.5 124.39L167 124.39L167 121.07L167.5 121.07L167.5 122.93L168 122.93L168 113.5L168.5 113.5L168.5 124.01L169 124.01L169 111.09L169.5 111.09L169.5 124.16L170 124.16L170 123.24L170.5 123.24L170.5 122.67L171 122.67L171 115.2L171.5 115.2L171.5 123.99L172 123.99L172 118.77L172.5 118.77L172.5 107.5L173 107.5L173 110.5L173.5 110.5L173.5 121.63L174 121.63L174 109.29L174.5 109.29L174.5 118.51L175 118.51L175 123.21L175.5 123.21L175.5 114.5L176 114.5L176 121.49L176.5 121.49L176.5 112.02L177 112.02L177 99.5L177.5 99.5L177.5 102.5L178 102.5L178 111.96L178.5 111.96L178.5 122.58L179 122.58L179 115.84L179.5 115.84L179.5 122.8L180 122.8L180 118.8L180.5 118.8L180.5 108.66L181 108.66L181 108.5L181.5 108.5L181.5 122.77L182 122.77L182 122.71L182.5 122.71L182.5 122.01L183 122.01L183 109.41L183.5 109.41L183.5 111.17L184 111.17L184 102.5L184.5 102.5L184.5 106.5L185 106.5L185 123.87L185.5 123.87L185.5 124.32L186 124.32L186 123.04L186.5 123.04L186.5 124.17L187 124.17L187 114.5L187.5 114.5L187.5 119.85L188 119.85L188 116.86L188.5 116.86L188.5 119.3L189 119.3L189 124.08L189.5 124.08L189.5 115.5L190 115.5L190 115.31L190.5 115.31L190.5 124.85L191 124.85L191 124.83L191.5 124.83L191.5 121.66L192 121.66L192 116.85L192.5 116.85L192.5 115.5L193 115.5L193 123.47L193.5 123.47L193.5 124.62L194 124.62L194 125.62L194.5 125.62L194.5 122.33L195 122.33L195 125.1L195.5 125.1L195.5 125.02L196 125.02L196 125.26L196.5 125.26L196.5 125.75L197 125.75L197 122.65L197.5 122.65L197.5 122.87L198 122.87L198 125.81L198.5 125.81L198.5 123.64L199 123.64L199 122.5L199.5 122.5L199.5 122.76L200 122.76L200 124.99L200.5 124.99L200.5 125.45L201 125.45L201 122.94L201.5 122.94L201.5 124.31L202 124.31L202 122.91L202.5 122.91L202.5 125.65L203 125.65L203 123L203.5 123L203.5 125.15L204 125.15L204 125.95L204.5 125.95L204.5 124.96L205 124.96L205 125.17L205.5 125.17L205.5 125.88L206 125.88L206 125.68L206.5 125.68L206.5 125.93L207 125.93L207 123L207.5 123L207.5 124.17L208 124.17L208 125.91L208.5 125.91L208.5 126.05L209 126.05L209 123.47L209.5 123.47L209.5 124.37L210 124.37L210 123.5L210.5 123.5L210.5 124.67L211 124.67L211 126.01L211.5 126.01L211.5 126.08L212 126.08L212 126L212.5 126L212.5 125.43L213 125.43L213 125.4L213.5 125.4L213.5 125.45L214 125.45L214 123.5L214.5 123.5L214.5 124.97L215 124.97L215 125.07L215.5 125.07L215.5 125.9L216 125.9L216 125.43L216.5 125.43L216.5 123.5L217 123.5L217 126.28L217.5 126.28L217.5 126.14L218 126.14L218 126.5 Z" fill="#8c8c8c"/>
<path d="M151 126.5L151 122.86L152 122.86L152 125.52L153 125.52L153 125.28L154 125.28L154 124.39L155 124.39L155 125.81L156 125.81L156 123.82L157 123.82L157 122.8L158 122.8L158 123.26L159 123.26L159 120.2L160 120.2L160 123.32L161 123.32L161 125.35L162 125.35L162 122.91L163 122.91L163 123.97L164 123.97L164 108.5L165 108.5L165 118.27L166 118.27L166 122.8L167 122.8L167 122.69L168 122.69L168 114.8L169 114.8L169 124.37L170 124.37L170 120.92L171 120.92L171 115.04L172 115.04L172 109.4L173 109.4L173 112.1L174 112.1L174 118.73L175 118.73L175 111.75L176 111.75L176 114.58L177 114.58L177 102.2L178 102.2L178 113.63L179 113.63L179 113.81L180 113.81L180 108.56L181 108.56L181 110.3L182 110.3L182 118.36L183 118.36L183 116.69L184 116.69L184 104.9L185 104.9L185 124.26L186 124.26L186 124.7L187 124.7L187 115.7L188 115.7L188 124.6L189 124.6L189 116.6L190 116.6L190 123.61L191 123.61L191 118.56L192 118.56L192 116.6L193 116.6L193 121.86L194 121.86L194 122.68L195 122.68L195 122.46L196 122.46L196 125.37L197 125.37L197 124.2L198 124.2L198 125.94L199 125.94L199 122.9L200 122.9L200 125.73L201 125.73L201 124.72L202 124.72L202 124.53L203 124.53L203 123.35L204 123.35L204 126.06L205 126.06L205 125.58L206 125.58L206 126.08L207 126.08L207 123.35L208 123.35L208 125.26L209 125.26L209 125.29L210 125.29L210 123.8L211 123.8L211 126.05L212 126.05L212 125.47L213 125.47L213 126.04L214 126.04L214 123.8L215 123.8L215 124.39L216 124.39L216 123.8L217 123.8L217 126.28L218 126.28L218 126.5 Z" fill="#000"/>
<path d="M198.45 126.5h1.1v-2.5h-1.1zM202.45 126.5h1.1v-3h-1.1zM206.45 126.5h1.1v-2.5h-1.1zM209.45 126.5h1.1v-3h-1.1zM215.95 126.5h1.1v-3h-1.1z" fill="#111"/>
<path d="M151 126.5L151 125.54L152 125.54L152 124.38L153 124.38L153 125.4L154 125.4L154 123.82L155 123.82L155 124.08L156 124.08L156 124.71L157 124.71L157 123.83L158 123.83L158 123.92L159 123.92L159 125.29L160 125.29L160 123.48L161 123.48L161 122.07L162 122.07L162 121.83L163 121.83L163 118.16L164 118.16L164 119.56L165 119.56L165 122.43L166 122.43L166 123.32L167 123.32L167 123.77L168 123.77L168 118.85L169 118.85L169 119.98L170 119.98L170 120.68L171 120.68L171 121.99L172 121.99L172 121.55L173 121.55L173 123.35L174 123.35L174 121.32L175 121.32L175 123.23L176 123.23L176 118.49L177 118.49L177 118.16L178 118.16L178 117.44L179 117.44L179 121.7L180 121.7L180 122.6L181 122.6L181 120.68L182 120.68L182 116.26L183 116.26L183 118.41L184 118.41L184 114.87L185 114.87L185 120.95L186 120.95L186 123.03L187 123.03L187 119.55L188 119.55L188 124.22L189 124.22L189 124.13L190 124.13L190 122.26L191 122.26L191 122.1L192 122.1L192 123.33L193 123.33L193 122.75L194 122.75L194 123.45L195 123.45L195 123.33L196 123.33L196 125.09L197 125.09L197 126.5 Z" fill="#c4c4c4" stroke="#333" stroke-width="0.45"/>
<path d="M178.5 97.3V126.5" stroke="#555" stroke-width="0.7" fill="none"/>
<path d="M150.8 97.3V126.5" fill="none" stroke="#808080" stroke-width="1.4"/>
<path d="M150.5 126.5H260.1" fill="none" stroke="#222" stroke-width="1.1"/>
<path d="M149.7 103.14h2.2M149.7 108.98h2.2M149.7 114.82h2.2M149.7 120.66h2.2" stroke="#777" stroke-width="0.8"/>
<path d="M150.5 131.3H260.1V160" fill="none" stroke="#a8a8a8" stroke-width="1.2"/>
<path d="M151 160L151 155.8L151.5 155.49L152 155.18L152.5 154.87L153 154.56L153.5 154.25L154 153.94L154.5 153.63L155 153.32L155.5 153.01L156 152.7L156.5 152.27L157 151.85L157.5 151.42L158 151L158.5 150.57L159 150.14L159.5 149.72L160 149.29L160.5 148.87L161 148.44L161.5 148.02L162 147.64L162.5 147.26L163 146.88L163.5 146.5L164 146.12L164.5 145.74L165 145.36L165.5 144.98L166 144.6L166.5 144.03L167 143.47L167.5 142.9L168 142.34L168.5 141.79L169 141.27L169.5 140.75L170 140.23L170.5 139.7L171 139.88L171.5 140.23L172 140.57L172.5 140.92L173 141.47L173.5 142.79L174 144.12L174.5 145.44L175 146.77L175.5 148.31L176 150L176.5 151.69L177 153.21L177.5 154.47L178 155.74L178.5 156.78L179 157.49L179.5 158.21L180 158.92L180.5 159.4L181 159.73L181 160 Z" fill="#000"/>
<path d="M151 160L151 155.8L151.5 155.49L152 155.18L152.5 154.87L153 154.56L153.5 154.25L154 153.94L154.5 153.63L155 153.32L155.5 153.01L156 152.7L156.5 152.27L157 151.85L157.5 151.42L158 151L158.5 150.57L159 150.14L159.5 149.72L160 149.29L160.5 148.87L161 148.44L161.5 148.02L162 147.64L162.5 147.26L163 146.88L163.5 146.5L164 146.12L164.5 145.74L165 145.36L165.5 144.98L166 144.6L166.5 144.49L167 144.39L167.5 144.28L168 144.29L168.5 144.71L169 145.14L169.5 145.56L170 145.99L170.5 146.41L171 147.32L171.5 148.34L172 149.36L172.5 150.38L173 151.4L173.5 152.4L174 153.4L174.5 154.4L175 155.4L175.5 156.23L176 156.95L176.5 157.67L177 158.3L177.5 158.8L178 159.3L178.5 159.71L179 160L179 160 Z" fill="#c4c4c4" stroke="#333" stroke-width="0.5"/>
<path d="M178.5 131.3V161.5" stroke="#555" stroke-width="0.7" fill="none"/>
<path d="M150.8 131.3V160" fill="none" stroke="#808080" stroke-width="1.4"/>
<path d="M150.5 160H260.1" fill="none" stroke="#222" stroke-width="1.1"/>
<path d="M149.7 137.04h2.2M149.7 142.78h2.2M149.7 148.52h2.2M149.7 154.26h2.2" stroke="#777" stroke-width="0.8"/>
<path d="M271.4 29.5H381.8V59.3" fill="none" stroke="#a8a8a8" stroke-width="1.2"/>
<path d="M282 59.3L282 58.57L282.5 58.57L282.5 58.54L283 58.54L283 58.9L283.5 58.9L283.5 58.45L284 58.45L284 58.49L284.5 58.49L284.5 58.48L285 58.48L285 58.57L285.5 58.57L285.5 58.35L286 58.35L286 58.1L286.5 58.1L286.5 58.39L287 58.39L287 58.73L287.5 58.73L287.5 58.88L288 58.88L288 58.28L288.5 58.28L288.5 58.49L289 58.49L289 58.28L289.5 58.28L289.5 58.41L290 58.41L290 58.26L290.5 58.26L290.5 58.47L291 58.47L291 58.85L291.5 58.85L291.5 58.44L292 58.44L292 58.68L292.5 58.68L292.5 58.35L293 58.35L293 58.1L293.5 58.1L293.5 58.55L294 58.55L294 58.77L294.5 58.77L294.5 58.82L295 58.82L295 58.49L295.5 58.49L295.5 58.26L296 58.26L296 58.8L296.5 58.8L296.5 58.61L297 58.61L297 58.54L297.5 58.54L297.5 58.47L298 58.47L298 57.8L298.5 57.8L298.5 58.71L299 58.71L299 58.39L299.5 58.39L299.5 58.59L300 58.59L300 57.85L300.5 57.85L300.5 57.78L301 57.78L301 57.82L301.5 57.82L301.5 58.33L302 58.33L302 57.89L302.5 57.89L302.5 57.56L303 57.56L303 57.82L303.5 57.82L303.5 57.51L304 57.51L304 57.79L304.5 57.79L304.5 56.71L305 56.71L305 56.78L305.5 56.78L305.5 55.62L306 55.62L306 56.56L306.5 56.56L306.5 55.63L307 55.63L307 56.43L307.5 56.43L307.5 56.37L308 56.37L308 54.02L308.5 54.02L308.5 55.9L309 55.9L309 55.09L309.5 55.09L309.5 53.49L310 53.49L310 51L310.5 51L310.5 51.55L311 51.55L311 50.69L311.5 50.69L311.5 49.21L312 49.21L312 52.58L312.5 52.58L312.5 53.64L313 53.64L313 51.56L313.5 51.56L313.5 50.85L314 50.85L314 45.42L314.5 45.42L314.5 46.44L315 46.44L315 49.54L315.5 49.54L315.5 46.16L316 46.16L316 45.79L316.5 45.79L316.5 39.8L317 39.8L317 43.53L317.5 43.53L317.5 37.3L318 37.3L318 50.89L318.5 50.89L318.5 47.46L319 47.46L319 43.25L319.5 43.25L319.5 46.42L320 46.42L320 36.7L320.5 36.7L320.5 39.3L321 39.3L321 50.06L321.5 50.06L321.5 45.21L322 45.21L322 50.02L322.5 50.02L322.5 42.98L323 42.98L323 48.02L323.5 48.02L323.5 45.53L324 45.53L324 42.3L324.5 42.3L324.5 46.34L325 46.34L325 51.02L325.5 51.02L325.5 52.23L326 52.23L326 46.4L326.5 46.4L326.5 52.57L327 52.57L327 52.56L327.5 52.56L327.5 52.79L328 52.79L328 44.78L328.5 44.78L328.5 52.26L329 52.26L329 42.8L329.5 42.8L329.5 53.47L330 53.47L330 46.86L330.5 46.86L330.5 53.6L331 53.6L331 54.63L331.5 54.63L331.5 53.41L332 53.41L332 55.46L332.5 55.46L332.5 54.58L333 54.58L333 53.74L333.5 53.74L333.5 56.57L334 56.57L334 56.31L334.5 56.31L334.5 56.81L335 56.81L335 57.2L335.5 57.2L335.5 57.25L336 57.25L336 55.91L336.5 55.91L336.5 56.19L337 56.19L337 58.02L337.5 58.02L337.5 57.77L338 57.77L338 58.16L338.5 58.16L338.5 58.33L339 58.33L339 58.66L339.5 58.66L339.5 58.05L340 58.05L340 58.67L340.5 58.67L340.5 58.77L341 58.77L341 58.42L341.5 58.42L341.5 58.86L342 58.86L342 58.94L342.5 58.94L342.5 58.86L343 58.86L343 59.07L343.5 59.07L343.5 59.03L344 59.03L344 59.22L344.5 59.22L344.5 59.27L345 59.27L345 59.3 Z" fill="#8c8c8c"/>
<path d="M282 59.3L282 58.49L283 58.49L283 58.7L284 58.7L284 58.82L285 58.82L285 58.94L286 58.94L286 58.22L287 58.22L287 58.63L288 58.63L288 58.71L289 58.71L289 58.87L290 58.87L290 58.7L291 58.7L291 58.69L292 58.69L292 58.51L293 58.51L293 58.22L294 58.22L294 58.54L295 58.54L295 58.68L296 58.68L296 58.42L297 58.42L297 58.52L298 58.52L298 57.95L299 57.95L299 58.57L300 58.57L300 58.01L301 58.01L301 57.78L302 57.78L302 58.19L303 58.19L303 58.05L304 58.05L304 56.58L305 56.58L305 57.61L306 57.61L306 55.44L307 55.44L307 56.31L308 56.31L308 56.63L309 56.63L309 55.03L310 55.03L310 55.07L311 55.07L311 52.73L312 52.73L312 52.18L313 52.18L313 52.99L314 52.99L314 49.77L315 49.77L315 50.88L316 50.88L316 41.75L317 41.75L317 39.5L318 39.5L318 47.04L319 47.04L319 51.75L320 51.75L320 38.96L321 38.96L321 42.29L322 42.29L322 50.72L323 50.72L323 51.65L324 51.65L324 41.89L325 41.89L325 51.96L326 51.96L326 47.59L327 47.59L327 51.67L328 51.67L328 49.72L329 49.72L329 44.45L330 44.45L330 52.15L331 52.15L331 54.6L332 54.6L332 56.06L333 56.06L333 56.72L334 56.72L334 56.84L335 56.84L335 57.67L336 57.67L336 56.34L337 56.34L337 57.67L338 57.67L338 58.08L339 58.08L339 58.64L340 58.64L340 58.53L341 58.53L341 58.95L342 58.95L342 58.99L343 58.99L343 58.98L344 58.98L344 59.19L345 59.19L345 59.3 Z" fill="#000"/>
<path d="M309.5 29.5V59.3" stroke="#555" stroke-width="0.7" fill="none"/>
<path d="M271.7 29.5V59.3" fill="none" stroke="#808080" stroke-width="1.4"/>
<path d="M271.4 59.3H381.8" fill="none" stroke="#222" stroke-width="1.1"/>
<path d="M270.6 35.46h2.2M270.6 41.42h2.2M270.6 47.38h2.2M270.6 53.34h2.2" stroke="#777" stroke-width="0.8"/>
<path d="M271.4 63.3H381.8V92.5" fill="none" stroke="#a8a8a8" stroke-width="1.2"/>
<path d="M290 92.5L290 92.2L290.5 92.13L291 92.09L291.5 92.04L292 91.95L292.5 91.93L293 91.88L293.5 91.79L294 91.75L294.5 91.57L295 91.52L295.5 91.46L296 91.36L296.5 91.24L297 91.12L297.5 91.12L298 90.86L298.5 90.91L299 90.57L299.5 90.49L300 90.56L300.5 90.42L301 90.25L301.5 89.93L302 89.77L302.5 89.49L303 89.17L303.5 89.22L304 88.5L304.5 88.23L305 87.63L305.5 87.17L306 86.19L306.5 85.71L307 85.12L307.5 82.89L308 82.48L308.5 81.14L309 79.08L309.5 78.8L310 77.93L310.5 76.36L311 74.02L311.5 73.67L312 74.38L312.5 71.64L313 70.59L313.5 70.14L314 70.99L314.5 72.66L315 71.5L315.5 74.34L316 72.61L316.5 74.27L317 74.99L317.5 76.78L318 77.99L318.5 79.85L319 81.17L319.5 82.36L320 82.23L320.5 83.91L321 83.96L321.5 84.82L322 85.61L322.5 86.41L323 87.72L323.5 87.78L324 88.12L324.5 88.85L325 88.92L325.5 89.46L326 90.03L326.5 90.2L327 90.43L327.5 90.52L328 90.63L328.5 90.72L329 91.06L329.5 91.15L330 91.34L330.5 91.48L331 91.72L331.5 91.76L332 91.78L332.5 91.86L333 91.89L333.5 91.99L334 91.99L334.5 92.1L335 92.14L335.5 92.18L336 92.2L336.5 92.26L337 92.27L337.5 92.33L338 92.35L338.5 92.39L339 92.43L339.5 92.47L340 92.5L340 92.5 Z" fill="#8c8c8c"/>
<path d="M290 92.5L290 92.2L290.5 92.15L291 92.11L291.5 92.1L292 92.06L292.5 91.98L293 91.92L293.5 91.79L294 91.73L294.5 91.67L295 91.6L295.5 91.51L296 91.51L296.5 91.39L297 91.37L297.5 91.11L298 91.16L298.5 90.87L299 90.93L299.5 90.65L300 90.63L300.5 90.49L301 90.23L301.5 90.38L302 90.14L302.5 89.56L303 89.49L303.5 89.46L304 88.76L304.5 88.53L305 88.47L305.5 87.63L306 87.24L306.5 86.47L307 85.53L307.5 84.69L308 82.61L308.5 82.27L309 80.76L309.5 78.44L310 78.43L310.5 77.54L311 76.26L311.5 75.69L312 75.29L312.5 75.62L313 73.04L313.5 71.66L314 71.49L314.5 73.05L315 74.54L315.5 75.13L316 74.89L316.5 75.92L317 78.4L317.5 79.27L318 80.16L318.5 81.07L319 81.41L319.5 82.73L320 84.18L320.5 83.97L321 85.22L321.5 85.82L322 86.79L322.5 87.29L323 88.01L323.5 88.12L324 88.88L324.5 88.98L325 89.51L325.5 89.64L326 90.24L326.5 90.39L327 90.52L327.5 90.6L328 90.91L328.5 90.97L329 91.18L329.5 91.33L330 91.45L330.5 91.55L331 91.73L331.5 91.73L332 91.87L332.5 91.85L333 91.95L333.5 92.02L334 92.03L334.5 92.08L335 92.18L335.5 92.22L336 92.23L336.5 92.28L337 92.31L337.5 92.35L338 92.38L338.5 92.4L339 92.43L339.5 92.47L340 92.5L340 92.5 Z" fill="#000"/>
<path d="M309.5 63.3V92.5" stroke="#555" stroke-width="0.7" fill="none"/>
<path d="M271.7 63.3V92.5" fill="none" stroke="#808080" stroke-width="1.4"/>
<path d="M271.4 92.5H381.8" fill="none" stroke="#222" stroke-width="1.1"/>
<path d="M270.6 69.14h2.2M270.6 74.98h2.2M270.6 80.82h2.2M270.6 86.66h2.2" stroke="#777" stroke-width="0.8"/>
<path d="M271.4 97.3H381.8V126.5" fill="none" stroke="#a8a8a8" stroke-width="1.2"/>
<path d="M271.5 126.5L271.5 124.59L272 124.59L272 125.79L272.5 125.79L272.5 125.58L273 125.58L273 125.09L273.5 125.09L273.5 125.72L274 125.72L274 125.77L274.5 125.77L274.5 124.71L275 124.71L275 125.18L275.5 125.18L275.5 124.16L276 124.16L276 125.91L276.5 125.91L276.5 124.24L277 124.24L277 125.91L277.5 125.91L277.5 124.33L278 124.33L278 124.71L278.5 124.71L278.5 125.85L279 125.85L279 123L279.5 123L279.5 125.67L280 125.67L280 125.3L280.5 125.3L280.5 125.07L281 125.07L281 124.31L281.5 124.31L281.5 124.89L282 124.89L282 122.02L282.5 122.02L282.5 123.99L283 123.99L283 125.35L283.5 125.35L283.5 125.57L284 125.57L284 123.46L284.5 123.46L284.5 123.28L285 123.28L285 123.97L285.5 123.97L285.5 124.82L286 124.82L286 125.46L286.5 125.46L286.5 121.74L287 121.74L287 121.57L287.5 121.57L287.5 123.78L288 123.78L288 121.27L288.5 121.27L288.5 124.02L289 124.02L289 123.16L289.5 123.16L289.5 119.24L290 119.24L290 118.5L290.5 118.5L290.5 124.11L291 124.11L291 122.21L291.5 122.21L291.5 123.8L292 123.8L292 120.66L292.5 120.66L292.5 116.21L293 116.21L293 114.5L293.5 114.5L293.5 124.08L294 124.08L294 122.1L294.5 122.1L294.5 122.74L295 122.74L295 122.38L295.5 122.38L295.5 123.35L296 123.35L296 112.5L296.5 112.5L296.5 123.5L297 123.5L297 121.72L297.5 121.72L297.5 111.76L298 111.76L298 109.7L298.5 109.7L298.5 108L299 108L299 111.5L299.5 111.5L299.5 110.2L300 110.2L300 117.57L300.5 117.57L300.5 122.11L301 122.11L301 122.47L301.5 122.47L301.5 120.89L302 120.89L302 100.5L302.5 100.5L302.5 104.5L303 104.5L303 121.79L303.5 121.79L303.5 110.32L304 110.32L304 116.66L304.5 116.66L304.5 102.26L305 102.26L305 109.5L305.5 109.5L305.5 113.39L306 113.39L306 108.62L306.5 108.62L306.5 119.67L307 119.67L307 106.5L307.5 106.5L307.5 121.96L308 121.96L308 123.03L308.5 123.03L308.5 112.25L309 112.25L309 117.13L309.5 117.13L309.5 110.5L310 110.5L310 121.17L310.5 121.17L310.5 114L311 114L311 114.51L311.5 114.51L311.5 118.68L312 118.68L312 123.48L312.5 123.48L312.5 123.87L313 123.87L313 112.5L313.5 112.5L313.5 120.51L314 120.51L314 120.19L314.5 120.19L314.5 122.78L315 122.78L315 120.34L315.5 120.34L315.5 124.15L316 124.15L316 116.23L316.5 116.23L316.5 123.81L317 123.81L317 124.67L317.5 124.67L317.5 116.5L318 116.5L318 120.43L318.5 120.43L318.5 124.8L319 124.8L319 124.74L319.5 124.74L319.5 124.7L320 124.7L320 125L320.5 125L320.5 118.5L321 118.5L321 123.24L321.5 123.24L321.5 123.34L322 123.34L322 124.62L322.5 124.62L322.5 120.18L323 120.18L323 121.73L323.5 121.73L323.5 121.96L324 121.96L324 120.5L324.5 120.5L324.5 125.34L325 125.34L325 125.49L325.5 125.49L325.5 124.56L326 124.56L326 125.03L326.5 125.03L326.5 125.34L327 125.34L327 122.22L327.5 122.22L327.5 123.15L328 123.15L328 125.72L328.5 125.72L328.5 123.77L329 123.77L329 125.74L329.5 125.74L329.5 124.21L330 124.21L330 126.04L330.5 126.04L330.5 125.01L331 125.01L331 126.28L331.5 126.28L331.5 126.03L332 126.03L332 126.28L332.5 126.28L332.5 125.87L333 125.87L333 125.96L333.5 125.96L333.5 126.3L334 126.3L334 126.16L334.5 126.16L334.5 125.83L335 125.83L335 125.93L335.5 125.93L335.5 126.23L336 126.23L336 125.65L336.5 125.65L336.5 126.24L337 126.24L337 126.13L337.5 126.13L337.5 125.76L338 125.76L338 126.29L338.5 126.29L338.5 125.85L339 125.85L339 125.65L339.5 125.65L339.5 126L340 126L340 126.23L340.5 126.23L340.5 125.67L341 125.67L341 125.65L341.5 125.65L341.5 126.32L342 126.32L342 126.34L342.5 126.34L342.5 125.72L343 125.72L343 126.17L343.5 126.17L343.5 125.77L344 125.77L344 125.69L344.5 125.69L344.5 126.28L345 126.28L345 126L345.5 126L345.5 126.12L346 126.12L346 126.23L346.5 126.23L346.5 126.28L347 126.28L347 126.29L347.5 126.29L347.5 126.33L348 126.33L348 126.33L348.5 126.33L348.5 125.85L349 125.85L349 126.34L349.5 126.34L349.5 126.33L350 126.33L350 126.34L350.5 126.34L350.5 125.91L351 125.91L351 126.3L351.5 126.3L351.5 126.36L352 126.36L352 126.21L352.5 126.21L352.5 125.92L353 125.92L353 126.22L353.5 126.22L353.5 126.09L354 126.09L354 126.23L354.5 126.23L354.5 126.35L355 126.35L355 126.1L355.5 126.1L355.5 125.95L356 125.95L356 126.35L356.5 126.35L356.5 125.85L357 125.85L357 126.36L357.5 126.36L357.5 126.22L358 126.22L358 126.2L358.5 126.2L358.5 126.35L359 126.35L359 126L359.5 126L359.5 126.16L360 126.16L360 126.37L360.5 126.37L360.5 126.11L361 126.11L361 125.98L361.5 125.98L361.5 126.35L362 126.35L362 126.34L362.5 126.34L362.5 126.21L363 126.21L363 126.37L363.5 126.37L363.5 126.17L364 126.17L364 126.04L364.5 126.04L364.5 126.38L365 126.38L365 126.35L365.5 126.35L365.5 126.27L366 126.27L366 126.35L366.5 126.35L366.5 123.5L367 123.5L367 126.35L367.5 126.35L367.5 126.38L368 126.38L368 126.27L368.5 126.27L368.5 126.01L369 126.01L369 126.36L369.5 126.36L369.5 126.38L370 126.38L370 125.99L370.5 125.99L370.5 126.39L371 126.39L371 126.39L371.5 126.39L371.5 126.02L372 126.02L372 124L372.5 124L372.5 125.96L373 125.96L373 125.97L373.5 125.97L373.5 125.99L374 125.99L374 126.2L374.5 126.2L374.5 126.37L375 126.37L375 125.91L375.5 125.91L375.5 126.39L376 126.39L376 125.91L376.5 125.91L376.5 126.37L377 126.37L377 126.28L377.5 126.28L377.5 123.5L378 123.5L378 126.4L378.5 126.4L378.5 126.37L379 126.37L379 126.5 Z" fill="#8c8c8c"/>
<path d="M271.5 126.5L271.5 125.91L272.5 125.91L272.5 123.86L273.5 123.86L273.5 124.15L274.5 124.15L274.5 125.55L275.5 125.55L275.5 126.05L276.5 126.05L276.5 125.95L277.5 125.95L277.5 125.97L278.5 125.97L278.5 123.35L279.5 123.35L279.5 122.98L280.5 122.98L280.5 125.75L281.5 125.75L281.5 125.68L282.5 125.68L282.5 122.51L283.5 122.51L283.5 125.17L284.5 125.17L284.5 121.92L285.5 121.92L285.5 123.05L286.5 123.05L286.5 124.51L287.5 124.51L287.5 121.81L288.5 121.81L288.5 124.24L289.5 124.24L289.5 119.3L290.5 119.3L290.5 120.39L291.5 120.39L291.5 121.42L292.5 121.42L292.5 115.7L293.5 115.7L293.5 116.61L294.5 116.61L294.5 117.67L295.5 117.67L295.5 113.08L296.5 113.08L296.5 121.28L297.5 121.28L297.5 121.79L298.5 121.79L298.5 109.85L299.5 109.85L299.5 117.74L300.5 117.74L300.5 116L301.5 116L301.5 103.1L302.5 103.1L302.5 106.7L303.5 106.7L303.5 116.92L304.5 116.92L304.5 111.2L305.5 111.2L305.5 115.69L306.5 115.69L306.5 108.5L307.5 108.5L307.5 120.2L308.5 120.2L308.5 113.72L309.5 113.72L309.5 112.1L310.5 112.1L310.5 122.56L311.5 122.56L311.5 123.99L312.5 123.99L312.5 113.9L313.5 113.9L313.5 117.88L314.5 117.88L314.5 119.58L315.5 119.58L315.5 118.53L316.5 118.53L316.5 123L317.5 123L317.5 117.5L318.5 117.5L318.5 124.91L319.5 124.91L319.5 125.17L320.5 125.17L320.5 119.3L321.5 119.3L321.5 125.02L322.5 125.02L322.5 122.43L323.5 122.43L323.5 121.1L324.5 121.1L324.5 124.39L325.5 124.39L325.5 125.16L326.5 125.16L326.5 125L327.5 125L327.5 125.52L328.5 125.52L328.5 125.54L329.5 125.54L329.5 124.53L330.5 124.53L330.5 125.6L331.5 125.6L331.5 126.1L332.5 126.1L332.5 126.01L333.5 126.01L333.5 126.09L334.5 126.09L334.5 126.33L335.5 126.33L335.5 126.15L336.5 126.15L336.5 126.06L337.5 126.06L337.5 126.21L338.5 126.21L338.5 125.73L339.5 125.73L339.5 126.11L340.5 126.11L340.5 126.33L341.5 126.33L341.5 126.2L342.5 126.2L342.5 126.36L343.5 126.36L343.5 126.24L344.5 126.24L344.5 126.31L345.5 126.31L345.5 126.34L346.5 126.34L346.5 125.86L347.5 125.86L347.5 126.34L348.5 126.34L348.5 126.06L349.5 126.06L349.5 125.86L350.5 125.86L350.5 126.35L351.5 126.35L351.5 126.25L352.5 126.25L352.5 126.24L353.5 126.24L353.5 126.03L354.5 126.03L354.5 126.36L355.5 126.36L355.5 126.13L356.5 126.13L356.5 126.26L357.5 126.26L357.5 126.08L358.5 126.08L358.5 126.31L359.5 126.31L359.5 126.19L360.5 126.19L360.5 126.26L361.5 126.26L361.5 126.38L362.5 126.38L362.5 126.37L363.5 126.37L363.5 126.34L364.5 126.34L364.5 126.31L365.5 126.31L365.5 126.24L366.5 126.24L366.5 123.8L367.5 123.8L367.5 126.2L368.5 126.2L368.5 126.13L369.5 126.13L369.5 126.29L370.5 126.29L370.5 126.13L371.5 126.13L371.5 124.25L372.5 124.25L372.5 126.36L373.5 126.36L373.5 126.39L374.5 126.39L374.5 126.4L375.5 126.4L375.5 126.1L376.5 126.1L376.5 126.17L377.5 126.17L377.5 123.8L378.5 123.8L378.5 126.16L379 126.16L379 126.5 Z" fill="#000"/>
<path d="M365.95 126.5h1.1v-2.5h-1.1zM371.45 126.5h1.1v-2h-1.1zM376.95 126.5h1.1v-2.5h-1.1z" fill="#111"/>
<path d="M309.5 97.3V126.5" stroke="#555" stroke-width="0.7" fill="none"/>
<path d="M271.7 97.3V126.5" fill="none" stroke="#808080" stroke-width="1.4"/>
<path d="M271.4 126.5H381.8" fill="none" stroke="#222" stroke-width="1.1"/>
<path d="M270.6 103.14h2.2M270.6 108.98h2.2M270.6 114.82h2.2M270.6 120.66h2.2" stroke="#777" stroke-width="0.8"/>
<path d="M271.4 131.3H381.8V160" fill="none" stroke="#a8a8a8" stroke-width="1.2"/>
<path d="M272.3 160L272.3 159.4L272.8 159.34L273.3 159.27L273.8 159.21L274.3 159.14L274.8 159.08L275.3 159.01L275.8 158.95L276.3 158.88L276.8 158.82L277.3 158.75L277.8 158.67L278.3 158.5L278.8 158.34L279.3 158.18L279.8 158.02L280.3 157.85L280.8 157.69L281.3 157.53L281.8 157.36L282.3 157.2L282.8 156.85L283.3 156.49L283.8 156.14L284.3 155.78L284.8 155.43L285.3 155.07L285.8 154.48L286.3 153.84L286.8 153.19L287.3 152.55L287.8 151.9L288.3 151.26L288.8 150.45L289.3 149.53L289.8 148.62L290.3 147.7L290.8 146.78L291.3 145.87L291.8 145.11L292.3 144.47L292.8 143.82L293.3 143.18L293.8 142.53L294.3 141.89L294.8 141.31L295.3 140.82L295.8 140.34L296.3 139.85L296.8 139.37L297.3 138.89L297.8 138.53L298.3 138.67L298.8 138.81L299.3 138.94L299.8 139.38L300.3 140L300.8 140.62L301.3 141.25L301.8 141.88L302.3 142.5L302.8 143.48L303.3 144.46L303.8 145.43L304.3 146.41L304.8 147.52L305.3 148.83L305.8 150.13L306.3 151.43L306.8 152.74L307.3 153.7L307.8 154.57L308.3 155.43L308.8 156.3L309.3 157.05L309.8 157.32L310.3 157.58L310.8 157.84L311.3 158.11L311.8 158.37L312.3 158.63L312.8 158.89L313.3 159.03L313.8 159.08L314.3 159.13L314.8 159.17L315.3 159.22L315.8 159.27L316.3 159.32L316.8 159.37L317.3 159.42L317.8 159.46L318.3 159.51L318.8 159.56L319.3 159.61L319.8 159.64L320.3 159.68L320.8 159.71L321.3 159.74L321.8 159.78L322.3 159.81L322.8 159.85L323.3 159.88L323.8 159.92L324.3 159.95L324.8 159.99L324.8 160 Z" fill="#000"/>
<path d="M309.5 131.3V161.5" stroke="#555" stroke-width="0.7" fill="none"/>
<path d="M271.7 131.3V160" fill="none" stroke="#808080" stroke-width="1.4"/>
<path d="M271.4 160H381.8" fill="none" stroke="#222" stroke-width="1.1"/>
<path d="M270.6 137.04h2.2M270.6 142.78h2.2M270.6 148.52h2.2M270.6 154.26h2.2" stroke="#777" stroke-width="0.8"/>
<path d="M392.8 29.5H503.3V59.3" fill="none" stroke="#a8a8a8" stroke-width="1.2"/>
<path d="M394 59.3L394 58.76L394.5 58.76L394.5 58.73L395 58.73L395 58.16L395.5 58.16L395.5 58.68L396 58.68L396 58.75L396.5 58.75L396.5 58.75L397 58.75L397 58.51L397.5 58.51L397.5 58.6L398 58.6L398 58.37L398.5 58.37L398.5 58.63L399 58.63L399 58.72L399.5 58.72L399.5 58.33L400 58.33L400 58.73L400.5 58.73L400.5 58.48L401 58.48L401 58.32L401.5 58.32L401.5 58.68L402 58.68L402 58.7L402.5 58.7L402.5 58.59L403 58.59L403 58.74L403.5 58.74L403.5 58.44L404 58.44L404 58.47L404.5 58.47L404.5 58.19L405 58.19L405 58.68L405.5 58.68L405.5 58.32L406 58.32L406 58.57L406.5 58.57L406.5 57.75L407 57.75L407 58.06L407.5 58.06L407.5 58.09L408 58.09L408 57.41L408.5 57.41L408.5 57.38L409 57.38L409 57.38L409.5 57.38L409.5 57.1L410 57.1L410 57.15L410.5 57.15L410.5 54.96L411 54.96L411 56.24L411.5 56.24L411.5 57.1L412 57.1L412 55.37L412.5 55.37L412.5 56.69L413 56.69L413 54.97L413.5 54.97L413.5 54.65L414 54.65L414 55.57L414.5 55.57L414.5 53.2L415 53.2L415 55.25L415.5 55.25L415.5 53.82L416 53.82L416 53.4L416.5 53.4L416.5 53.25L417 53.25L417 51.23L417.5 51.23L417.5 52.88L418 52.88L418 53.9L418.5 53.9L418.5 51.81L419 51.81L419 52.17L419.5 52.17L419.5 52.21L420 52.21L420 52.05L420.5 52.05L420.5 52.01L421 52.01L421 46.62L421.5 46.62L421.5 45.3L422 45.3L422 48.93L422.5 48.93L422.5 45.3L423 45.3L423 45.13L423.5 45.13L423.5 50.77L424 50.77L424 48.15L424.5 48.15L424.5 51.27L425 51.27L425 46.94L425.5 46.94L425.5 48.99L426 48.99L426 42.1L426.5 42.1L426.5 47.55L427 47.55L427 41.71L427.5 41.71L427.5 42.97L428 42.97L428 43.47L428.5 43.47L428.5 38.84L429 38.84L429 38.28L429.5 38.28L429.5 42.3L430 42.3L430 48.79L430.5 48.79L430.5 47.7L431 47.7L431 38.29L431.5 38.29L431.5 42.19L432 42.19L432 39.88L432.5 39.88L432.5 48.73L433 48.73L433 47.43L433.5 47.43L433.5 36.92L434 36.92L434 37.19L434.5 37.19L434.5 45.44L435 45.44L435 45.26L435.5 45.26L435.5 47.77L436 47.77L436 46.27L436.5 46.27L436.5 38.07L437 38.07L437 33.3L437.5 33.3L437.5 42.32L438 42.32L438 46.67L438.5 46.67L438.5 44.54L439 44.54L439 50.81L439.5 50.81L439.5 49.13L440 49.13L440 44.91L440.5 44.91L440.5 49.81L441 49.81L441 48.49L441.5 48.49L441.5 53.31L442 53.31L442 53.65L442.5 53.65L442.5 53.99L443 53.99L443 50.81L443.5 50.81L443.5 50.9L444 50.9L444 54.88L444.5 54.88L444.5 55.82L445 55.82L445 54.24L445.5 54.24L445.5 54.46L446 54.46L446 55.82L446.5 55.82L446.5 55.02L447 55.02L447 57.43L447.5 57.43L447.5 57.75L448 57.75L448 57.96L448.5 57.96L448.5 57.07L449 57.07L449 57.83L449.5 57.83L449.5 57.71L450 57.71L450 57.64L450.5 57.64L450.5 58.33L451 58.33L451 58.21L451.5 58.21L451.5 58.25L452 58.25L452 58.49L452.5 58.49L452.5 58.8L453 58.8L453 58.57L453.5 58.57L453.5 58.69L454 58.69L454 57.8L454.5 57.8L454.5 59.01L455 59.01L455 59.1L455.5 59.1L455.5 59.06L456 59.06L456 58.99L456.5 58.99L456.5 58.97L457 58.97L457 58.91L457.5 58.91L457.5 59.01L458 59.01L458 58.88L458.5 58.88L458.5 58.99L459 58.99L459 58.99L459.5 58.99L459.5 59.1L460 59.1L460 59.1L460.5 59.1L460.5 58.93L461 58.93L461 59.09L461.5 59.09L461.5 59.06L462 59.06L462 59.1L462.5 59.1L462.5 58.96L463 58.96L463 57.8L463.5 57.8L463.5 59.08L464 59.08L464 59.04L464.5 59.04L464.5 58.92L465 58.92L465 58.87L465.5 58.87L465.5 59.04L466 59.04L466 59.06L466.5 59.06L466.5 58.97L467 58.97L467 58.97L467.5 58.97L467.5 58.97L468 58.97L468 57.8L468.5 57.8L468.5 59.07L469 59.07L469 59.01L469.5 59.01L469.5 58.99L470 58.99L470 58.91L470.5 58.91L470.5 58.93L471 58.93L471 58.91L471.5 58.91L471.5 58.99L472 58.99L472 59.1L472.5 59.1L472.5 59.03L473 59.03L473 58.87L473.5 58.87L473.5 59.07L474 59.07L474 57.8L474.5 57.8L474.5 59.09L475 59.09L475 58.9L475.5 58.9L475.5 59.01L476 59.01L476 59.3 Z" fill="#8c8c8c"/>
<path d="M394 59.3L394 58.81L395 58.81L395 58.51L396 58.51L396 58.72L397 58.72L397 58.77L398 58.77L398 58.76L399 58.76L399 58.66L400 58.66L400 58.8L401 58.8L401 58.74L402 58.74L402 58.74L403 58.74L403 58.34L404 58.34L404 58.66L405 58.66L405 58.7L406 58.7L406 58.15L407 58.15L407 58.38L408 58.38L408 56.94L409 56.94L409 57.81L410 57.81L410 55.81L411 55.81L411 57.28L412 57.28L412 55.38L413 55.38L413 56.1L414 56.1L414 54.56L415 54.56L415 52.32L416 52.32L416 52.08L417 52.08L417 51.52L418 51.52L418 50.08L419 50.08L419 49.71L420 49.71L420 52.73L421 52.73L421 52.54L422 52.54L422 46.7L423 46.7L423 46.83L424 46.83L424 44.99L425 44.99L425 50.81L426 50.81L426 50.85L427 50.85L427 41.88L428 41.88L428 47.45L429 47.45L429 44L430 44L430 47.73L431 47.73L431 43.48L432 43.48L432 42.02L433 42.02L433 47.21L434 47.21L434 41.21L435 41.21L435 49.72L436 49.72L436 48.67L437 48.67L437 35.9L438 35.9L438 51.33L439 51.33L439 49.24L440 49.24L440 53.24L441 53.24L441 50.88L442 50.88L442 51.52L443 51.52L443 51.36L444 51.36L444 54.93L445 54.93L445 54.96L446 54.96L446 56.14L447 56.14L447 56.59L448 56.59L448 57.85L449 57.85L449 58.14L450 58.14L450 58.18L451 58.18L451 58.38L452 58.38L452 58.39L453 58.39L453 58.67L454 58.67L454 57.95L455 57.95L455 58.95L456 58.95L456 59.04L457 59.04L457 58.98L458 58.98L458 58.92L459 58.92L459 58.97L460 58.97L460 59.12L461 59.12L461 59.1L462 59.1L462 59.12L463 59.12L463 57.95L464 57.95L464 58.98L465 58.98L465 59.08L466 59.08L466 59.11L467 59.11L467 59.05L468 59.05L468 57.95L469 57.95L469 59.11L470 59.11L470 58.96L471 58.96L471 59.12L472 59.12L472 59.06L473 59.06L473 58.96L474 58.96L474 57.95L475 57.95L475 58.93L476 58.93L476 59.3 Z" fill="#000"/>
<path d="M453.2 59.3h1.1v-2h-1.1zM468.2 59.3h1.1v-1.8h-1.1zM469.95 59.3h1.1v-1.8h-1.1zM473.95 59.3h1.1v-2h-1.1zM501.95 59.3h1.1v-1.8h-1.1z" fill="#111"/>
<path d="M422.5 29.5V59.3" stroke="#555" stroke-width="0.7" fill="none"/>
<path d="M393.1 29.5V59.3" fill="none" stroke="#808080" stroke-width="1.4"/>
<path d="M392.8 59.3H503.3" fill="none" stroke="#222" stroke-width="1.1"/>
<path d="M392 35.46h2.2M392 41.42h2.2M392 47.38h2.2M392 53.34h2.2" stroke="#777" stroke-width="0.8"/>
<path d="M392.8 63.3H503.3V92.5" fill="none" stroke="#a8a8a8" stroke-width="1.2"/>
<path d="M393.5 92.5L393.5 83.68L394 87.49L394.5 91.4L395 91.39L395.5 91.4L396 91.45L396.5 91.34L397 91.5L397.5 91.38L398 91.37L398.5 91.34L399 91.22L399.5 91.22L400 91.16L400.5 90.99L401 91.05L401.5 90.87L402 90.84L402.5 90.9L403 90.86L403.5 90.79L404 90.68L404.5 90.61L405 90.38L405.5 90.08L406 89.91L406.5 89.65L407 89.72L407.5 89.2L408 89.24L408.5 89.02L409 88.96L409.5 88.28L410 88.34L410.5 87.76L411 88.06L411.5 87.52L412 87.48L412.5 86.46L413 86.97L413.5 86.03L414 85.74L414.5 85.23L415 83.83L415.5 83.5L416 82.54L416.5 82.29L417 81.48L417.5 80.95L418 81.45L418.5 79.91L419 79.56L419.5 79.21L420 78.58L420.5 77.32L421 77.13L421.5 75.45L422 74.69L422.5 74.97L423 73.38L423.5 74.02L424 73.42L424.5 72.11L425 69.9L425.5 72.21L426 72.61L426.5 73.82L427 73.1L427.5 71.79L428 71.01L428.5 71.35L429 71.75L429.5 69.5L430 68.69L430.5 66L431 69.84L431.5 70.97L432 72.52L432.5 72.56L433 73.94L433.5 72.71L434 75.41L434.5 76.33L435 75.92L435.5 77.05L436 77.65L436.5 79.68L437 80.14L437.5 81.36L438 82.73L438.5 83.76L439 85.14L439.5 86.33L440 86.22L440.5 87.08L441 88L441.5 88.24L442 88.63L442.5 89.27L443 89.64L443.5 89.8L444 90.09L444.5 90.32L445 90.62L445.5 90.83L446 90.97L446.5 91.15L447 91.23L447.5 91.45L448 91.54L448.5 91.48L449 91.51L449.5 91.58L450 91.55L450.5 91.61L451 91.68L451.5 91.68L452 91.77L452.5 91.83L453 91.76L453.5 91.88L454 91.91L454.5 91.86L455 91.97L455.5 91.93L456 91.98L456.5 92.02L457 92.05L457.5 92.08L458 92.06L458.5 92.09L459 92.14L459.5 92.17L460 92.23L460.5 92.27L461 92.36L461.5 92.43L462 92.5L462 92.5 Z" fill="#8c8c8c"/>
<path d="M393.5 92.5L393.5 84.08L394 87.5L394.5 91.48L395 91.46L395.5 91.55L396 91.55L396.5 91.56L397 91.55L397.5 91.47L398 91.56L398.5 91.46L399 91.45L399.5 91.37L400 91.29L400.5 91.14L401 91.12L401.5 91.18L402 91.06L402.5 91.03L403 90.79L403.5 90.74L404 90.67L404.5 90.55L405 90.4L405.5 90.16L406 90.03L406.5 90.06L407 89.66L407.5 89.64L408 89.35L408.5 89.26L409 89.16L409.5 88.95L410 88.66L410.5 88.48L411 88.36L411.5 87.63L412 87.38L412.5 86.97L413 86.94L413.5 86.8L414 86L414.5 86.01L415 84.82L415.5 84.48L416 84.23L416.5 83.61L417 82.64L417.5 82.56L418 81.75L418.5 81.01L419 80.88L419.5 80.88L420 79.64L420.5 79.54L421 78.94L421.5 78.43L422 77.43L422.5 77.53L423 75.47L423.5 73.99L424 74.8L424.5 73.21L425 71.88L425.5 74.77L426 74.78L426.5 73.22L427 73.46L427.5 74.16L428 75.01L428.5 73.83L429 72.02L429.5 71.46L430 71.2L430.5 69.97L431 71.04L431.5 72.98L432 72.45L432.5 74.6L433 72.88L433.5 74.77L434 75.34L434.5 77.44L435 77.35L435.5 78.41L436 79.38L436.5 80.78L437 81.12L437.5 82.72L438 83.75L438.5 84.87L439 85.26L439.5 86.8L440 87.36L440.5 87.95L441 88.04L441.5 88.6L442 89.1L442.5 89.82L443 90.01L443.5 90.22L444 90.47L444.5 90.66L445 90.54L445.5 90.95L446 91.07L446.5 91.24L447 91.35L447.5 91.58L448 91.55L448.5 91.6L449 91.57L449.5 91.71L450 91.7L450.5 91.71L451 91.69L451.5 91.77L452 91.81L452.5 91.82L453 91.89L453.5 91.95L454 91.93L454.5 91.92L455 91.96L455.5 92.02L456 92.01L456.5 92.02L457 92.09L457.5 92.09L458 92.13L458.5 92.16L459 92.18L459.5 92.21L460 92.25L460.5 92.32L461 92.37L461.5 92.44L462 92.5L462 92.5 Z" fill="#000"/>
<path d="M422.5 63.3V92.5" stroke="#555" stroke-width="0.7" fill="none"/>
<path d="M393.1 63.3V92.5" fill="none" stroke="#808080" stroke-width="1.4"/>
<path d="M392.8 92.5H503.3" fill="none" stroke="#222" stroke-width="1.1"/>
<path d="M392 69.14h2.2M392 74.98h2.2M392 80.82h2.2M392 86.66h2.2" stroke="#777" stroke-width="0.8"/>
<path d="M392.8 97.3H503.3V126.5" fill="none" stroke="#a8a8a8" stroke-width="1.2"/>
<path d="M393.5 126.5L393.5 116.57L394 116.57L394 123.74L394.5 123.74L394.5 125.11L395 125.11L395 125.01L395.5 125.01L395.5 122.98L396 122.98L396 123.99L396.5 123.99L396.5 124.52L397 124.52L397 123.73L397.5 123.73L397.5 122.74L398 122.74L398 122.88L398.5 122.88L398.5 124.63L399 124.63L399 125.38L399.5 125.38L399.5 124.04L400 124.04L400 124.84L400.5 124.84L400.5 124.14L401 124.14L401 122.66L401.5 122.66L401.5 124.39L402 124.39L402 121.57L402.5 121.57L402.5 119.45L403 119.45L403 118.77L403.5 118.77L403.5 119.5L404 119.5L404 123.31L404.5 123.31L404.5 124.82L405 124.82L405 120.29L405.5 120.29L405.5 122.31L406 122.31L406 121.74L406.5 121.74L406.5 123.44L407 123.44L407 123.04L407.5 123.04L407.5 116.99L408 116.99L408 115.5L408.5 115.5L408.5 123.49L409 123.49L409 124L409.5 124L409.5 119.51L410 119.51L410 119.74L410.5 119.74L410.5 112.5L411 112.5L411 119.19L411.5 119.19L411.5 117.72L412 117.72L412 117.24L412.5 117.24L412.5 122.21L413 122.21L413 116.86L413.5 116.86L413.5 114.87L414 114.87L414 120.41L414.5 120.41L414.5 122.58L415 122.58L415 122.45L415.5 122.45L415.5 122.88L416 122.88L416 122.54L416.5 122.54L416.5 112.44L417 112.44L417 112.5L417.5 112.5L417.5 119.83L418 119.83L418 115.74L418.5 115.74L418.5 121.97L419 121.97L419 110.64L419.5 110.64L419.5 104.5L420 104.5L420 107.5L420.5 107.5L420.5 113.66L421 113.66L421 121.04L421.5 121.04L421.5 113.91L422 113.91L422 107.68L422.5 107.68L422.5 121.07L423 121.07L423 120.96L423.5 120.96L423.5 106.5L424 106.5L424 109.5L424.5 109.5L424.5 109.68L425 109.68L425 119.42L425.5 119.42L425.5 112.67L426 112.67L426 122.39L426.5 122.39L426.5 116.73L427 116.73L427 115.27L427.5 115.27L427.5 109.5L428 109.5L428 111.76L428.5 111.76L428.5 118.75L429 118.75L429 117.98L429.5 117.98L429.5 115.5L430 115.5L430 123.18L430.5 123.18L430.5 117.75L431 117.75L431 121.87L431.5 121.87L431.5 121.07L432 121.07L432 120.81L432.5 120.81L432.5 124.5L433 124.5L433 120.09L433.5 120.09L433.5 125.14L434 125.14L434 121.12L434.5 121.12L434.5 124.92L435 124.92L435 125.4L435.5 125.4L435.5 122.38L436 122.38L436 125.5L436.5 125.5L436.5 122.5L437 122.5L437 125.57L437.5 125.57L437.5 124.29L438 124.29L438 123.08L438.5 123.08L438.5 123.61L439 123.61L439 123.53L439.5 123.53L439.5 123.67L440 123.67L440 125.78L440.5 125.78L440.5 123.35L441 123.35L441 123.89L441.5 123.89L441.5 124.09L442 124.09L442 124.37L442.5 124.37L442.5 125.4L443 125.4L443 125.66L443.5 125.66L443.5 126.17L444 126.17L444 126.1L444.5 126.1L444.5 126.09L445 126.09L445 124.7L445.5 124.7L445.5 126.04L446 126.04L446 126.37L446.5 126.37L446.5 126.34L447 126.34L447 126.37L447.5 126.37L447.5 126.14L448 126.14L448 126.37L448.5 126.37L448.5 126.29L449 126.29L449 126.27L449.5 126.27L449.5 126.23L450 126.23L450 126.38L450.5 126.38L450.5 124.7L451 124.7L451 126.36L451.5 126.36L451.5 126.37L452 126.37L452 126.35L452.5 126.35L452.5 126.19L453 126.19L453 126.3L453.5 126.3L453.5 126.06L454 126.06L454 126.18L454.5 126.18L454.5 126.38L455 126.38L455 126.25L455.5 126.25L455.5 125.99L456 125.99L456 126.36L456.5 126.36L456.5 125.96L457 125.96L457 125L457.5 125L457.5 126.35L458 126.35L458 126.15L458.5 126.15L458.5 125.98L459 125.98L459 126.38L459.5 126.38L459.5 126.28L460 126.28L460 126.37L460.5 126.37L460.5 126.2L461 126.2L461 126.33L461.5 126.33L461.5 126.28L462 126.28L462 126.17L462.5 126.17L462.5 125L463 125L463 126.26L463.5 126.26L463.5 126.17L464 126.17L464 126.29L464.5 126.29L464.5 126.31L465 126.31L465 126.23L465.5 126.23L465.5 126.36L466 126.36L466 126.12L466.5 126.12L466.5 126.23L467 126.23L467 126.22L467.5 126.22L467.5 126.3L468 126.3L468 124.7L468.5 124.7L468.5 126.2L469 126.2L469 126.16L469.5 126.16L469.5 126.31L470 126.31L470 126.5 Z" fill="#8c8c8c"/>
<path d="M393.5 126.5L393.5 116.05L394.5 116.05L394.5 125.33L395.5 125.33L395.5 124.92L396.5 124.92L396.5 123.68L397.5 123.68L397.5 123.42L398.5 123.42L398.5 123.04L399.5 123.04L399.5 121.49L400.5 121.49L400.5 122.48L401.5 122.48L401.5 124.97L402.5 124.97L402.5 121.41L403.5 121.41L403.5 120.2L404.5 120.2L404.5 121.73L405.5 121.73L405.5 121.46L406.5 121.46L406.5 120.26L407.5 120.26L407.5 116.6L408.5 116.6L408.5 123.61L409.5 123.61L409.5 117.98L410.5 117.98L410.5 113.9L411.5 113.9L411.5 121.25L412.5 121.25L412.5 122.58L413.5 122.58L413.5 123.92L414.5 123.92L414.5 123.32L415.5 123.32L415.5 118.88L416.5 118.88L416.5 113.23L417.5 113.23L417.5 122.56L418.5 122.56L418.5 115.05L419.5 115.05L419.5 106.7L420.5 106.7L420.5 114.8L421.5 114.8L421.5 121.14L422.5 121.14L422.5 121.78L423.5 121.78L423.5 108.5L424.5 108.5L424.5 122.76L425.5 122.76L425.5 116.96L426.5 116.96L426.5 121.48L427.5 121.48L427.5 116.13L428.5 116.13L428.5 113.31L429.5 113.31L429.5 116.6L430.5 116.6L430.5 117.08L431.5 117.08L431.5 122.2L432.5 122.2L432.5 123.06L433.5 123.06L433.5 123.78L434.5 123.78L434.5 124.85L435.5 124.85L435.5 125.52L436.5 125.52L436.5 122.9L437.5 122.9L437.5 125.3L438.5 125.3L438.5 123.35L439.5 123.35L439.5 124.35L440.5 124.35L440.5 125.87L441.5 125.87L441.5 123.98L442.5 123.98L442.5 125.66L443.5 125.66L443.5 126.17L444.5 126.17L444.5 124.88L445.5 124.88L445.5 126.11L446.5 126.11L446.5 126.39L447.5 126.39L447.5 126.39L448.5 126.39L448.5 126.39L449.5 126.39L449.5 126.23L450.5 126.23L450.5 124.88L451.5 124.88L451.5 126.26L452.5 126.26L452.5 126.39L453.5 126.39L453.5 126.08L454.5 126.08L454.5 126.26L455.5 126.26L455.5 126.29L456.5 126.29L456.5 125.15L457.5 125.15L457.5 126.24L458.5 126.24L458.5 126.17L459.5 126.17L459.5 126.29L460.5 126.29L460.5 126.36L461.5 126.36L461.5 126.19L462.5 126.19L462.5 125.15L463.5 125.15L463.5 126.26L464.5 126.26L464.5 126.29L465.5 126.29L465.5 126.39L466.5 126.39L466.5 126.38L467.5 126.38L467.5 124.88L468.5 124.88L468.5 126.33L469.5 126.33L469.5 126.39L470 126.39L470 126.5 Z" fill="#000"/>
<path d="M443.2 126.5h1.1v-2.5h-1.1zM446.45 126.5h1.1v-2h-1.1zM449.45 126.5h1.1v-2.5h-1.1zM456.45 126.5h1.1v-2h-1.1zM461.95 126.5h1.1v-2.5h-1.1zM468.2 126.5h1.1v-2.5h-1.1zM484.45 126.5h1.1v-2.5h-1.1zM487.45 126.5h1.1v-2h-1.1zM494.45 126.5h1.1v-2h-1.1zM502.45 126.5h1.1v-2.5h-1.1z" fill="#111"/>
<path d="M422.5 97.3V126.5" stroke="#555" stroke-width="0.7" fill="none"/>
<path d="M393.1 97.3V126.5" fill="none" stroke="#808080" stroke-width="1.4"/>
<path d="M392.8 126.5H503.3" fill="none" stroke="#222" stroke-width="1.1"/>
<path d="M392 103.14h2.2M392 108.98h2.2M392 114.82h2.2M392 120.66h2.2" stroke="#777" stroke-width="0.8"/>
<path d="M392.8 131.3H503.3V160" fill="none" stroke="#a8a8a8" stroke-width="1.2"/>
<path d="M393.5 160L393.5 131.8L394 136.13L394.5 140.98L395 141.7L395.5 143.57L396 143.49L396.5 143.67L397 143.09L397.5 142.46L398 141.5L398.5 143.36L399 141.72L399.5 143.32L400 142.65L400.5 143.87L401 142.91L401.5 143.33L402 141.28L402.5 140.98L403 141.18L403.5 142.8L404 142.88L404.5 143.34L405 142.01L405.5 141.94L406 141.34L406.5 141.63L407 142.89L407.5 141.07L408 143.16L408.5 142.04L409 142.83L409.5 142.48L410 144.16L410.5 143.85L411 143.02L411.5 143.42L412 144.57L412.5 144.66L413 144.23L413.5 144.54L414 144.4L414.5 145.27L415 145.72L415.5 146.82L416 146.59L416.5 147.34L417 148.74L417.5 149.08L418 150.36L418.5 150.29L419 151.66L419.5 152.26L420 153.13L420.5 153.76L421 154.17L421.5 155.02L422 155.59L422.5 155.61L423 156.34L423.5 156.53L424 156.69L424.5 157.08L425 157.2L425.5 157.14L426 157.36L426.5 157.3L427 157.61L427.5 157.61L428 157.74L428.5 157.86L429 157.88L429.5 158.13L430 158.08L430.5 158.14L431 158.21L431.5 158.39L432 158.36L432.5 158.61L433 158.66L433.5 158.72L434 158.81L434.5 158.77L435 158.9L435.5 158.87L436 158.97L436.5 158.97L437 158.95L437.5 159.1L438 159.08L438.5 159.1L439 159.16L439.5 159.26L440 159.25L440.5 159.29L441 159.36L441.5 159.37L442 159.35L442.5 159.4L443 159.44L443.5 159.44L444 159.4L444.5 159.48L445 159.48L445.5 159.5L446 159.49L446.5 159.51L447 159.52L447.5 159.52L448 159.55L448.5 159.57L449 159.58L449.5 159.56L450 159.57L450.5 159.62L451 159.61L451.5 159.62L452 159.63L452.5 159.67L453 159.66L453.5 159.68L454 159.7L454.5 159.71L455 159.71L455.5 159.72L456 159.74L456.5 159.73L457 159.76L457.5 159.76L458 159.76L458.5 159.77L459 159.8L459.5 159.8L460 159.82L460.5 159.81L461 159.83L461.5 159.84L462 159.85L462.5 159.85L463 159.86L463.5 159.88L464 159.88L464.5 159.89L465 159.9L465.5 159.92L466 159.92L466.5 159.93L467 159.94L467.5 159.95L468 159.96L468.5 159.97L469 159.98L469.5 159.99L470 160L470 160 Z" fill="#8c8c8c"/>
<path d="M393.5 160L393.5 132.93L394 137.91L394.5 141.02L395 143.21L395.5 143.48L396 143.59L396.5 143.38L397 144.6L397.5 143.53L398 143.43L398.5 143.7L399 142.97L399.5 143.99L400 144.33L400.5 143.56L401 143.81L401.5 144.14L402 143.8L402.5 143.11L403 143.89L403.5 142.91L404 142.81L404.5 143.59L405 142.91L405.5 142.6L406 143.2L406.5 142.8L407 143.8L407.5 143.88L408 142.32L408.5 144.04L409 144.5L409.5 143.51L410 144.02L410.5 145.34L411 145.11L411.5 145.41L412 145.5L412.5 146.14L413 145.39L413.5 145.95L414 145.96L414.5 146.62L415 147.24L415.5 147.86L416 147.09L416.5 147.81L417 148.85L417.5 150.21L418 150.97L418.5 151.79L419 152.36L419.5 153.23L420 153.7L420.5 154.4L421 155.05L421.5 155.28L422 155.77L422.5 156.15L423 156.59L423.5 156.9L424 156.93L424.5 157.21L425 157.4L425.5 157.38L426 157.53L426.5 157.53L427 157.83L427.5 157.73L428 158.03L428.5 157.98L429 158.09L429.5 158.2L430 158.15L430.5 158.28L431 158.46L431.5 158.48L432 158.54L432.5 158.72L433 158.79L433.5 158.79L434 158.81L434.5 158.89L435 158.93L435.5 158.96L436 159.03L436.5 159L437 159.03L437.5 159.12L438 159.2L438.5 159.2L439 159.21L439.5 159.29L440 159.34L440.5 159.37L441 159.37L441.5 159.4L442 159.44L442.5 159.43L443 159.43L443.5 159.43L444 159.45L444.5 159.49L445 159.48L445.5 159.48L446 159.5L446.5 159.52L447 159.54L447.5 159.56L448 159.55L448.5 159.57L449 159.58L449.5 159.62L450 159.64L450.5 159.64L451 159.64L451.5 159.65L452 159.68L452.5 159.69L453 159.67L453.5 159.72L454 159.7L454.5 159.71L455 159.73L455.5 159.72L456 159.74L456.5 159.77L457 159.75L457.5 159.78L458 159.77L458.5 159.78L459 159.81L459.5 159.82L460 159.83L460.5 159.82L461 159.83L461.5 159.85L462 159.86L462.5 159.87L463 159.87L463.5 159.88L464 159.89L464.5 159.89L465 159.91L465.5 159.92L466 159.93L466.5 159.94L467 159.94L467.5 159.95L468 159.96L468.5 159.97L469 159.98L469.5 159.99L470 160L470 160 Z" fill="#000"/>
<path d="M422.5 131.3V161.5" stroke="#555" stroke-width="0.7" fill="none"/>
<path d="M393.1 131.3V160" fill="none" stroke="#808080" stroke-width="1.4"/>
<path d="M392.8 160H503.3" fill="none" stroke="#222" stroke-width="1.1"/>
<path d="M392 137.04h2.2M392 142.78h2.2M392 148.52h2.2M392 154.26h2.2" stroke="#777" stroke-width="0.8"/>
<text x="1.3" y="18.7" font-size="24.5" font-weight="bold" stroke="#000" stroke-width="0.5">A</text>
<text x="8.8" y="44.2" font-size="20" font-weight="bold" stroke="#000" stroke-width="0.4">i</text>
<text x="6.2" y="78.5" font-size="20" font-weight="bold" stroke="#000" stroke-width="0.4">ii</text>
<text x="2.9" y="112" font-size="20" font-weight="bold" stroke="#000" stroke-width="0.4">iii</text>
<text x="2.9" y="145" font-size="20" font-weight="bold" stroke="#000" stroke-width="0.4">iv</text>
<text class="sf" x="20.2" y="173.3" font-size="12">10<tspan font-size="7.5" dy="-3.6" dx="0.6">0</tspan></text>
<text class="sf" x="47.2" y="173.3" font-size="12">10<tspan font-size="7.5" dy="-3.6" dx="0.6">1</tspan></text>
<text class="sf" x="73.95" y="173.3" font-size="12">10<tspan font-size="7.5" dy="-3.6" dx="0.6">2</tspan></text>
<text class="sf" x="100.95" y="173.3" font-size="12">10<tspan font-size="7.5" dy="-3.6" dx="0.6">3</tspan></text>
<text class="sf" x="125.95" y="173.3" font-size="12">10<tspan font-size="7.5" dy="-3.6" dx="0.6">4</tspan></text>
<text class="sf" x="145.2" y="173.3" font-size="12">10<tspan font-size="7.5" dy="-3.6" dx="0.6">0</tspan></text>
<text class="sf" x="167.7" y="173.3" font-size="12">10<tspan font-size="7.5" dy="-3.6" dx="0.6">1</tspan></text>
<text class="sf" x="195.2" y="173.3" font-size="12">10<tspan font-size="7.5" dy="-3.6" dx="0.6">2</tspan></text>
<text class="sf" x="222.2" y="173.3" font-size="12">10<tspan font-size="7.5" dy="-3.6" dx="0.6">3</tspan></text>
<text class="sf" x="247.7" y="173.3" font-size="12">10<tspan font-size="7.5" dy="-3.6" dx="0.6">4</tspan></text>
<text class="sf" x="266.7" y="173.3" font-size="12">10<tspan font-size="7.5" dy="-3.6" dx="0.6">0</tspan></text>
<text class="sf" x="289.2" y="173.3" font-size="12">10<tspan font-size="7.5" dy="-3.6" dx="0.6">1</tspan></text>
<text class="sf" x="315.2" y="173.3" font-size="12">10<tspan font-size="7.5" dy="-3.6" dx="0.6">2</tspan></text>
<text class="sf" x="342.2" y="173.3" font-size="12">10<tspan font-size="7.5" dy="-3.6" dx="0.6">3</tspan></text>
<text class="sf" x="368.45" y="173.3" font-size="12">10<tspan font-size="7.5" dy="-3.6" dx="0.6">4</tspan></text>
<text class="sf" x="387.7" y="173.3" font-size="12">10<tspan font-size="7.5" dy="-3.6" dx="0.6">0</tspan></text>
<text class="sf" x="410.95" y="173.3" font-size="12">10<tspan font-size="7.5" dy="-3.6" dx="0.6">1</tspan></text>
<text class="sf" x="438.45" y="173.3" font-size="12">10<tspan font-size="7.5" dy="-3.6" dx="0.6">2</tspan></text>
<text class="sf" x="464.7" y="173.3" font-size="12">10<tspan font-size="7.5" dy="-3.6" dx="0.6">3</tspan></text>
<text class="sf" x="492.2" y="173.3" font-size="12">10<tspan font-size="7.5" dy="-3.6" dx="0.6">4</tspan></text>
<text x="59.2" y="187.6" font-size="11">CD45RB</text>
<text x="180.2" y="187.6" font-size="11">CD152</text>
<text x="302.2" y="187.6" font-size="11">GITR</text>
<text x="424.2" y="187.6" font-size="11">CD122</text>
<text x="-0.1" y="217.8" font-size="24.5" font-weight="bold" stroke="#000" stroke-width="0.5">B</text>
<text x="72.2" y="223" font-size="11.4">CD4+CD25+ T cells</text>
<path d="M80 310h1v1h-1zM96 314h1v1h-1zM97 312h1v1h-1zM105 323h1v1h-1zM95 306h1v1h-1zM63 318h1v1h-1zM54 323h1v1h-1zM98 310h1v1h-1zM93 310h1v1h-1zM101 307h1v1h-1zM61 314h1v1h-1zM69 304h1v1h-1zM51 315h1v1h-1zM103 323h1v1h-1zM56 310h1v1h-1zM56 320h1v1h-1zM74 303h1v1h-1zM53 309h1v1h-1zM55 310h1v1h-1zM66 304h1v1h-1zM73 322h1v1h-1zM75 306h1v1h-1zM101 317h1v1h-1zM49 315h1v1h-1zM62 306h1v1h-1zM73 318h1v1h-1zM62 313h1v1h-1zM87 305h1v1h-1zM106 316h1v1h-1zM71 314h1v1h-1zM63 303h1v1h-1zM94 321h1v1h-1zM68 304h1v1h-1zM80 323h1v1h-1zM58 322h1v1h-1zM75 320h1v1h-1zM85 322h1v1h-1zM52 322h1v1h-1zM51 308h1v1h-1zM50 325h1v1h-1zM69 322h1v1h-1zM99 311h1v1h-1zM55 312h1v1h-1zM100 321h1v1h-1zM101 312h1v1h-1zM105 315h1v1h-1zM91 305h1v1h-1zM84 323h1v1h-1zM53 319h1v1h-1zM66 317h1v1h-1zM73 320h1v1h-1zM107 310h1v1h-1zM52 318h1v1h-1zM56 318h1v1h-1zM94 304h1v1h-1zM70 312h1v1h-1zM81 318h1v1h-1zM70 321h1v1h-1zM63 306h1v1h-1zM65 325h1v1h-1zM77 306h1v1h-1zM98 311h1v1h-1zM68 305h1v1h-1zM98 320h1v1h-1zM55 308h1v1h-1zM56 322h1v1h-1zM50 316h1v1h-1zM70 322h1v1h-1zM53 310h1v1h-1zM107 320h1v1h-1zM105 318h1v1h-1zM75 319h1v1h-1zM68 324h1v1h-1zM74 325h1v1h-1zM51 306h1v1h-1zM57 307h1v1h-1zM67 320h1v1h-1zM101 323h1v1h-1zM80 306h1v1h-1zM66 316h1v1h-1zM104 307h1v1h-1zM50 304h1v1h-1zM86 317h1v1h-1zM86 321h1v1h-1zM77 318h1v1h-1zM76 322h1v1h-1zM52 304h1v1h-1zM74 315h1v1h-1zM60 318h1v1h-1zM66 320h1v1h-1zM91 324h1v1h-1zM106 306h1v1h-1zM70 316h1v1h-1zM67 314h1v1h-1zM64 309h1v1h-1zM54 310h1v1h-1zM63 324h1v1h-1zM57 311h1v1h-1zM82 311h1v1h-1zM104 315h1v1h-1zM105 308h1v1h-1zM77 324h1v1h-1zM73 324h1v1h-1zM91 321h1v1h-1zM70 313h1v1h-1zM82 308h1v1h-1zM78 321h1v1h-1zM106 312h1v1h-1zM103 321h1v1h-1zM60 315h1v1h-1zM78 304h1v1h-1zM56 311h1v1h-1zM84 315h1v1h-1zM67 318h1v1h-1zM68 323h1v1h-1zM79 320h1v1h-1zM66 323h1v1h-1zM70 319h1v1h-1zM106 317h1v1h-1zM89 304h1v1h-1zM94 322h1v1h-1zM82 320h1v1h-1zM85 318h1v1h-1zM88 304h1v1h-1zM49 311h1v1h-1zM57 320h1v1h-1zM72 322h1v1h-1zM102 324h1v1h-1zM91 304h1v1h-1zM56 308h1v1h-1zM67 319h1v1h-1zM79 311h1v1h-1zM58 325h1v1h-1zM94 320h1v1h-1zM86 320h1v1h-1zM66 310h1v1h-1zM60 320h1v1h-1zM67 311h1v1h-1zM103 322h1v1h-1zM64 306h1v1h-1zM88 312h1v1h-1zM106 323h1v1h-1zM104 322h1v1h-1zM65 310h1v1h-1zM90 311h1v1h-1zM80 325h1v1h-1zM62 319h1v1h-1zM79 318h1v1h-1zM51 313h1v1h-1zM90 305h1v1h-1zM93 303h1v1h-1zM72 325h1v1h-1zM100 314h1v1h-1zM102 305h1v1h-1zM91 325h1v1h-1zM102 307h1v1h-1zM100 307h1v1h-1zM71 315h1v1h-1zM103 324h1v1h-1zM49 317h1v1h-1zM55 307h1v1h-1zM75 309h1v1h-1zM59 321h1v1h-1zM93 307h1v1h-1zM99 325h1v1h-1zM97 315h1v1h-1zM59 306h1v1h-1zM67 309h1v1h-1zM49 319h1v1h-1zM72 315h1v1h-1zM66 306h1v1h-1zM102 310h1v1h-1zM56 307h1v1h-1zM92 318h1v1h-1zM73 316h1v1h-1zM63 321h1v1h-1zM100 305h1v1h-1zM74 320h1v1h-1zM53 317h1v1h-1zM52 316h1v1h-1zM60 317h1v1h-1zM53 315h1v1h-1zM78 314h1v1h-1zM51 314h1v1h-1zM71 323h1v1h-1zM51 311h1v1h-1zM103 305h1v1h-1zM103 304h1v1h-1zM72 321h1v1h-1zM107 312h1v1h-1zM59 316h1v1h-1zM61 303h1v1h-1zM49 310h1v1h-1zM63 311h1v1h-1zM64 325h1v1h-1zM49 308h1v1h-1zM54 304h1v1h-1zM83 320h1v1h-1zM51 321h1v1h-1zM61 324h1v1h-1zM65 323h1v1h-1zM83 319h1v1h-1zM67 310h1v1h-1zM56 319h1v1h-1zM61 310h1v1h-1zM100 325h1v1h-1zM85 313h1v1h-1zM94 311h1v1h-1zM73 307h1v1h-1zM96 325h1v1h-1zM62 308h1v1h-1zM98 305h1v1h-1zM91 308h1v1h-1zM64 319h1v1h-1zM84 324h1v1h-1zM76 324h1v1h-1zM49 325h1v1h-1zM105 306h1v1h-1zM107 314h1v1h-1zM62 318h1v1h-1zM60 325h1v1h-1zM81 322h1v1h-1zM102 312h1v1h-1zM72 317h1v1h-1zM61 307h1v1h-1zM63 325h1v1h-1zM70 323h1v1h-1zM77 319h1v1h-1zM58 320h1v1h-1zM51 304h1v1h-1zM72 323h1v1h-1zM62 320h1v1h-1zM87 318h1v1h-1zM77 315h1v1h-1zM49 316h1v1h-1zM49 323h1v1h-1zM88 322h1v1h-1zM102 306h1v1h-1zM54 307h1v1h-1zM96 309h1v1h-1zM71 312h1v1h-1zM106 308h1v1h-1zM93 305h1v1h-1zM51 303h1v1h-1zM58 315h1v1h-1zM81 324h1v1h-1zM54 316h1v1h-1zM99 324h1v1h-1zM52 325h1v1h-1zM53 307h1v1h-1zM62 323h1v1h-1zM71 325h1v1h-1zM68 321h1v1h-1zM105 304h1v1h-1zM104 313h1v1h-1zM53 318h1v1h-1zM54 303h1v1h-1zM66 312h1v1h-1zM59 314h1v1h-1zM81 313h1v1h-1zM50 311h1v1h-1zM67 312h1v1h-1zM65 312h1v1h-1zM53 325h1v1h-1zM103 302h1v1h-1zM86 289h1v1h-1zM94 287h1v1h-1zM84 284h1v1h-1zM82 284h1v1h-1zM95 286h1v1h-1zM81 283h1v1h-1zM92 297h1v1h-1zM80 303h1v1h-1zM80 290h1v1h-1zM89 303h1v1h-1zM104 290h1v1h-1zM101 263h1v1h-1zM80 291h1v1h-1zM97 293h1v1h-1zM85 285h1v1h-1zM76 307h1v1h-1zM99 301h1v1h-1zM86 284h1v1h-1zM93 289h1v1h-1zM84 289h1v1h-1zM78 281h1v1h-1zM83 276h1v1h-1zM93 297h1v1h-1zM77 272h1v1h-1zM91 291h1v1h-1zM86 276h1v1h-1zM63 305h1v1h-1zM83 294h1v1h-1zM85 293h1v1h-1zM71 285h1v1h-1zM70 279h1v1h-1zM80 282h1v1h-1zM72 288h1v1h-1zM86 281h1v1h-1zM110 296h1v1h-1zM99 286h1v1h-1zM97 296h1v1h-1zM74 283h1v1h-1zM121 285h1v1h-1zM92 287h1v1h-1zM96 280h1v1h-1zM74 300h1v1h-1zM88 265h1v1h-1zM86 287h1v1h-1zM95 292h1v1h-1zM90 290h1v1h-1zM89 278h1v1h-1zM76 281h1v1h-1zM70 296h1v1h-1zM99 295h1v1h-1zM79 284h1v1h-1zM81 300h1v1h-1zM92 306h1v1h-1zM74 287h1v1h-1zM71 276h1v1h-1zM84 286h1v1h-1zM80 274h1v1h-1zM88 286h1v1h-1zM97 294h1v1h-1zM70 293h1v1h-1zM79 304h1v1h-1zM81 275h1v1h-1zM101 309h1v1h-1zM65 287h1v1h-1zM85 283h1v1h-1zM101 301h1v1h-1zM89 282h1v1h-1zM103 295h1v1h-1zM82 287h1v1h-1zM75 291h1v1h-1zM70 289h1v1h-1zM80 294h1v1h-1zM99 296h1v1h-1zM85 282h1v1h-1zM82 289h1v1h-1zM92 284h1v1h-1zM74 291h1v1h-1zM103 281h1v1h-1zM77 293h1v1h-1zM69 297h1v1h-1zM76 297h1v1h-1zM92 286h1v1h-1zM97 264h1v1h-1zM90 288h1v1h-1zM76 291h1v1h-1zM92 282h1v1h-1zM85 289h1v1h-1zM91 301h1v1h-1zM80 302h1v1h-1zM70 292h1v1h-1zM65 290h1v1h-1zM87 282h1v1h-1zM98 289h1v1h-1zM87 298h1v1h-1zM99 273h1v1h-1zM87 289h1v1h-1zM73 274h1v1h-1zM77 288h1v1h-1zM105 289h1v1h-1zM109 301h1v1h-1zM98 282h1v1h-1zM82 280h1v1h-1zM91 288h1v1h-1zM91 292h1v1h-1zM74 285h1v1h-1zM95 287h1v1h-1zM92 275h1v1h-1zM85 281h1v1h-1zM80 286h1v1h-1zM93 298h1v1h-1zM74 296h1v1h-1zM94 288h1v1h-1zM91 293h1v1h-1zM77 273h1v1h-1zM85 286h1v1h-1zM91 282h1v1h-1zM94 293h1v1h-1zM77 298h1v1h-1zM82 282h1v1h-1zM89 289h1v1h-1zM75 295h1v1h-1zM86 282h1v1h-1zM65 293h1v1h-1zM87 290h1v1h-1zM103 265h1v1h-1zM101 302h1v1h-1zM74 299h1v1h-1zM76 279h1v1h-1zM90 289h1v1h-1zM97 283h1v1h-1zM104 304h1v1h-1zM99 292h1v1h-1zM94 300h1v1h-1zM91 280h1v1h-1zM104 292h1v1h-1zM90 295h1v1h-1zM90 296h1v1h-1zM88 287h1v1h-1zM83 298h1v1h-1zM82 288h1v1h-1zM85 294h1v1h-1zM69 287h1v1h-1zM93 273h1v1h-1zM107 288h1v1h-1zM76 298h1v1h-1zM60 291h1v1h-1zM74 289h1v1h-1zM90 297h1v1h-1zM87 286h1v1h-1zM101 288h1v1h-1zM91 252h1v1h-1zM97 270h1v1h-1zM124 300h1v1h-1zM90 307h1v1h-1zM89 280h1v1h-1zM98 273h1v1h-1zM93 300h1v1h-1zM88 288h1v1h-1zM77 267h1v1h-1zM72 284h1v1h-1zM100 315h1v1h-1zM96 282h1v1h-1zM81 299h1v1h-1zM93 293h1v1h-1zM89 300h1v1h-1zM113 289h1v1h-1zM88 294h1v1h-1zM80 268h1v1h-1zM102 291h1v1h-1zM104 281h1v1h-1zM100 273h1v1h-1zM97 287h1v1h-1zM97 286h1v1h-1zM94 294h1v1h-1zM106 284h1v1h-1zM103 286h1v1h-1zM100 311h1v1h-1zM76 269h1v1h-1zM88 282h1v1h-1zM100 300h1v1h-1zM114 282h1v1h-1zM89 288h1v1h-1zM64 276h1v1h-1zM60 280h1v1h-1zM98 306h1v1h-1zM102 297h1v1h-1zM70 274h1v1h-1zM77 291h1v1h-1zM86 293h1v1h-1zM86 294h1v1h-1zM83 264h1v1h-1zM75 297h1v1h-1zM97 295h1v1h-1zM97 279h1v1h-1zM83 284h1v1h-1zM107 297h1v1h-1zM83 297h1v1h-1zM84 277h1v1h-1zM90 286h1v1h-1zM72 282h1v1h-1zM83 289h1v1h-1zM93 287h1v1h-1zM91 285h1v1h-1zM83 274h1v1h-1zM86 292h1v1h-1zM65 281h1v1h-1zM92 296h1v1h-1zM77 292h1v1h-1zM101 231h1v1h-1zM96 252h1v1h-1zM65 265h1v1h-1zM89 237h1v1h-1zM99 240h1v1h-1zM105 262h1v1h-1zM97 249h1v1h-1zM73 276h1v1h-1zM59 245h1v1h-1zM93 292h1v1h-1zM96 267h1v1h-1zM57 252h1v1h-1zM78 240h1v1h-1zM98 293h1v1h-1zM50 244h1v1h-1zM97 290h1v1h-1zM63 263h1v1h-1zM102 281h1v1h-1zM64 289h1v1h-1zM78 276h1v1h-1zM55 232h1v1h-1zM70 273h1v1h-1zM58 293h1v1h-1zM83 255h1v1h-1zM58 294h1v1h-1zM92 280h1v1h-1zM65 258h1v1h-1zM58 271h1v1h-1zM105 292h1v1h-1zM86 279h1v1h-1zM64 259h1v1h-1zM49 286h1v1h-1zM93 231h1v1h-1zM102 277h1v1h-1zM84 262h1v1h-1zM64 294h1v1h-1zM67 301h1v1h-1zM87 279h1v1h-1zM64 281h1v1h-1zM89 295h1v1h-1zM73 266h1v1h-1zM79 288h1v1h-1zM98 277h1v1h-1zM67 266h1v1h-1zM54 302h1v1h-1zM87 296h1v1h-1zM101 274h1v1h-1zM59 293h1v1h-1zM96 286h1v1h-1zM88 289h1v1h-1zM107 272h1v1h-1zM74 278h1v1h-1zM52 290h1v1h-1zM83 270h1v1h-1zM91 271h1v1h-1zM80 293h1v1h-1zM102 289h1v1h-1zM79 296h1v1h-1zM98 297h1v1h-1zM60 266h1v1h-1zM57 272h1v1h-1zM96 293h1v1h-1zM60 289h1v1h-1zM69 266h1v1h-1zM68 294h1v1h-1zM69 272h1v1h-1zM67 296h1v1h-1zM77 297h1v1h-1zM83 300h1v1h-1zM54 298h1v1h-1zM79 297h1v1h-1zM72 274h1v1h-1zM53 296h1v1h-1zM58 270h1v1h-1zM73 285h1v1h-1zM102 280h1v1h-1zM68 291h1v1h-1zM94 282h1v1h-1zM86 269h1v1h-1zM86 262h1v1h-1zM66 292h1v1h-1zM60 293h1v1h-1zM78 293h1v1h-1zM55 287h1v1h-1zM86 278h1v1h-1zM105 277h1v1h-1zM52 270h1v1h-1zM71 263h1v1h-1zM68 295h1v1h-1zM61 289h1v1h-1zM86 272h1v1h-1zM57 277h1v1h-1zM84 269h1v1h-1zM97 274h1v1h-1zM67 291h1v1h-1zM84 276h1v1h-1zM70 298h1v1h-1zM70 270h1v1h-1zM104 299h1v1h-1zM73 271h1v1h-1zM91 267h1v1h-1zM60 277h1v1h-1zM87 263h1v1h-1zM100 272h1v1h-1zM80 264h1v1h-1zM89 279h1v1h-1zM77 268h1v1h-1zM90 287h1v1h-1zM67 288h1v1h-1zM88 273h1v1h-1zM85 267h1v1h-1zM97 266h1v1h-1zM56 266h1v1h-1zM61 270h1v1h-1zM65 283h1v1h-1zM61 290h1v1h-1zM67 264h1v1h-1zM78 270h1v1h-1zM103 275h1v1h-1zM50 289h1v1h-1zM102 295h1v1h-1zM88 268h1v1h-1zM55 282h1v1h-1zM91 266h1v1h-1zM65 271h1v1h-1zM106 274h1v1h-1zM76 266h1v1h-1zM60 264h1v1h-1zM67 294h1v1h-1zM68 292h1v1h-1zM55 292h1v1h-1zM173 286h1v1h-1zM155 272h1v1h-1zM153 290h1v1h-1zM146 261h1v1h-1zM170 292h1v1h-1zM161 291h1v1h-1zM164 277h1v1h-1zM146 296h1v1h-1zM162 261h1v1h-1zM159 273h1v1h-1zM157 275h1v1h-1zM162 276h1v1h-1zM149 288h1v1h-1zM162 260h1v1h-1zM157 281h1v1h-1zM152 256h1v1h-1zM162 278h1v1h-1zM161 276h1v1h-1zM156 281h1v1h-1zM157 290h1v1h-1zM155 260h1v1h-1zM159 262h1v1h-1zM138 265h1v1h-1zM154 269h1v1h-1zM146 276h1v1h-1zM168 290h1v1h-1zM158 291h1v1h-1zM154 268h1v1h-1zM163 265h1v1h-1zM161 279h1v1h-1zM155 273h1v1h-1zM167 258h1v1h-1zM160 275h1v1h-1zM152 280h1v1h-1zM161 278h1v1h-1zM160 297h1v1h-1zM153 284h1v1h-1zM144 285h1v1h-1zM143 287h1v1h-1zM154 281h1v1h-1zM146 279h1v1h-1zM165 287h1v1h-1zM158 279h1v1h-1zM167 289h1v1h-1zM153 271h1v1h-1zM153 279h1v1h-1zM149 251h1v1h-1zM156 282h1v1h-1zM159 293h1v1h-1zM148 272h1v1h-1zM146 282h1v1h-1zM157 273h1v1h-1zM158 270h1v1h-1zM150 300h1v1h-1zM163 281h1v1h-1zM166 295h1v1h-1zM154 274h1v1h-1zM165 273h1v1h-1zM145 285h1v1h-1zM142 294h1v1h-1zM164 264h1v1h-1zM159 265h1v1h-1zM147 252h1v1h-1zM164 290h1v1h-1zM156 278h1v1h-1zM172 269h1v1h-1zM149 281h1v1h-1zM162 275h1v1h-1zM147 269h1v1h-1zM163 288h1v1h-1zM145 263h1v1h-1zM150 279h1v1h-1zM176 275h1v1h-1zM158 269h1v1h-1zM179 271h1v1h-1zM147 290h1v1h-1zM158 268h1v1h-1zM153 254h1v1h-1zM154 249h1v1h-1zM154 273h1v1h-1zM151 295h1v1h-1zM170 277h1v1h-1zM167 275h1v1h-1zM156 268h1v1h-1zM164 287h1v1h-1zM148 281h1v1h-1zM154 267h1v1h-1zM158 254h1v1h-1zM155 304h1v1h-1zM161 264h1v1h-1zM162 280h1v1h-1zM155 271h1v1h-1zM158 271h1v1h-1zM157 289h1v1h-1zM165 262h1v1h-1zM154 300h1v1h-1zM172 284h1v1h-1zM171 295h1v1h-1zM157 253h1v1h-1zM158 262h1v1h-1zM159 302h1v1h-1zM160 269h1v1h-1zM149 253h1v1h-1zM143 300h1v1h-1zM165 277h1v1h-1zM157 278h1v1h-1zM158 297h1v1h-1zM161 253h1v1h-1zM166 254h1v1h-1zM155 261h1v1h-1zM158 263h1v1h-1zM147 265h1v1h-1zM163 297h1v1h-1zM160 286h1v1h-1zM150 278h1v1h-1zM149 286h1v1h-1zM165 292h1v1h-1zM157 272h1v1h-1zM162 288h1v1h-1zM176 288h1v1h-1zM149 266h1v1h-1zM148 280h1v1h-1zM149 297h1v1h-1zM156 287h1v1h-1zM159 283h1v1h-1zM155 278h1v1h-1zM159 288h1v1h-1zM154 290h1v1h-1zM161 300h1v1h-1zM131 271h1v1h-1zM168 246h1v1h-1zM170 280h1v1h-1zM142 288h1v1h-1zM150 267h1v1h-1zM170 274h1v1h-1zM150 305h1v1h-1zM165 275h1v1h-1zM152 276h1v1h-1zM171 266h1v1h-1zM148 296h1v1h-1zM156 280h1v1h-1zM162 274h1v1h-1zM139 276h1v1h-1zM168 307h1v1h-1zM157 279h1v1h-1zM169 287h1v1h-1zM160 253h1v1h-1zM155 282h1v1h-1zM146 274h1v1h-1zM172 276h1v1h-1zM147 254h1v1h-1zM151 282h1v1h-1zM160 281h1v1h-1zM161 263h1v1h-1zM153 275h1v1h-1zM158 292h1v1h-1zM152 269h1v1h-1zM170 281h1v1h-1zM147 275h1v1h-1zM150 302h1v1h-1zM146 286h1v1h-1zM127 297h1v1h-1zM127 290h1v1h-1zM140 289h1v1h-1zM124 290h1v1h-1zM139 290h1v1h-1zM137 293h1v1h-1zM131 292h1v1h-1zM123 288h1v1h-1zM109 283h1v1h-1zM118 289h1v1h-1zM151 292h1v1h-1zM137 284h1v1h-1zM139 306h1v1h-1zM134 285h1v1h-1zM119 294h1v1h-1zM122 298h1v1h-1zM121 279h1v1h-1zM142 282h1v1h-1zM127 294h1v1h-1zM154 288h1v1h-1zM122 293h1v1h-1zM138 301h1v1h-1zM147 295h1v1h-1zM144 293h1v1h-1zM146 288h1v1h-1zM120 294h1v1h-1zM173 298h1v1h-1zM125 303h1v1h-1zM109 290h1v1h-1zM141 287h1v1h-1zM127 291h1v1h-1zM127 286h1v1h-1zM120 280h1v1h-1zM121 291h1v1h-1zM118 305h1v1h-1zM119 293h1v1h-1zM122 286h1v1h-1zM140 296h1v1h-1zM153 297h1v1h-1zM137 297h1v1h-1zM121 302h1v1h-1zM142 296h1v1h-1zM143 280h1v1h-1zM136 291h1v1h-1zM153 295h1v1h-1zM145 302h1v1h-1zM145 294h1v1h-1zM150 310h1v1h-1zM120 286h1v1h-1zM157 293h1v1h-1zM129 286h1v1h-1zM163 291h1v1h-1zM148 305h1v1h-1zM115 284h1v1h-1zM139 287h1v1h-1zM129 287h1v1h-1zM133 285h1v1h-1zM117 295h1v1h-1zM137 300h1v1h-1zM142 295h1v1h-1zM146 285h1v1h-1zM128 294h1v1h-1zM148 297h1v1h-1zM132 291h1v1h-1zM138 283h1v1h-1zM147 298h1v1h-1zM148 300h1v1h-1zM149 277h1v1h-1zM138 281h1v1h-1zM122 291h1v1h-1zM152 295h1v1h-1zM138 306h1v1h-1zM138 284h1v1h-1zM115 285h1v1h-1zM137 280h1v1h-1zM141 294h1v1h-1zM125 293h1v1h-1zM142 287h1v1h-1zM145 286h1v1h-1zM143 304h1v1h-1zM170 272h1v1h-1zM116 231h1v1h-1zM159 280h1v1h-1zM132 256h1v1h-1zM119 277h1v1h-1zM127 292h1v1h-1zM141 256h1v1h-1zM129 279h1v1h-1zM167 260h1v1h-1zM170 265h1v1h-1zM137 270h1v1h-1zM127 252h1v1h-1zM135 281h1v1h-1zM166 292h1v1h-1zM160 284h1v1h-1zM120 245h1v1h-1zM139 254h1v1h-1zM151 280h1v1h-1zM164 242h1v1h-1zM114 240h1v1h-1zM181 261h1v1h-1zM112 246h1v1h-1zM113 233h1v1h-1zM164 273h1v1h-1zM183 289h1v1h-1zM118 288h1v1h-1zM142 273h1v1h-1zM117 263h1v1h-1zM120 262h1v1h-1zM116 302h1v1h-1zM141 276h1v1h-1zM126 285h1v1h-1zM131 291h1v1h-1zM113 266h1v1h-1zM121 295h1v1h-1zM147 276h1v1h-1zM134 270h1v1h-1zM147 285h1v1h-1zM120 278h1v1h-1zM114 265h1v1h-1zM122 300h1v1h-1zM142 300h1v1h-1zM145 295h1v1h-1zM133 290h1v1h-1zM141 292h1v1h-1zM128 285h1v1h-1zM111 267h1v1h-1zM113 287h1v1h-1zM150 289h1v1h-1zM119 275h1v1h-1zM148 283h1v1h-1zM110 295h1v1h-1zM120 266h1v1h-1zM137 295h1v1h-1zM113 299h1v1h-1zM129 276h1v1h-1zM146 273h1v1h-1zM148 289h1v1h-1zM118 291h1v1h-1zM145 270h1v1h-1zM118 272h1v1h-1zM135 268h1v1h-1zM114 299h1v1h-1zM137 289h1v1h-1zM135 293h1v1h-1zM132 264h1v1h-1zM130 301h1v1h-1zM146 297h1v1h-1zM147 273h1v1h-1zM119 285h1v1h-1zM112 294h1v1h-1zM129 284h1v1h-1zM130 278h1v1h-1zM137 269h1v1h-1zM149 290h1v1h-1zM128 290h1v1h-1zM110 270h1v1h-1zM133 275h1v1h-1zM135 272h1v1h-1zM132 271h1v1h-1zM125 282h1v1h-1zM118 290h1v1h-1zM125 296h1v1h-1zM121 269h1v1h-1zM119 266h1v1h-1zM110 313h1v1h-1zM141 307h1v1h-1zM158 322h1v1h-1zM112 316h1v1h-1zM136 314h1v1h-1zM134 312h1v1h-1zM116 325h1v1h-1zM109 308h1v1h-1zM119 322h1v1h-1zM123 319h1v1h-1zM113 312h1v1h-1zM174 318h1v1h-1zM136 311h1v1h-1zM124 308h1v1h-1zM115 310h1v1h-1zM127 312h1v1h-1zM139 307h1v1h-1zM114 320h1v1h-1zM153 305h1v1h-1zM125 305h1v1h-1zM136 304h1v1h-1zM135 321h1v1h-1zM126 310h1v1h-1zM151 304h1v1h-1zM129 316h1v1h-1zM136 317h1v1h-1zM134 316h1v1h-1zM138 310h1v1h-1zM163 314h1v1h-1zM121 309h1v1h-1zM166 323h1v1h-1zM175 314h1v1h-1zM143 313h1v1h-1zM111 316h1v1h-1zM152 309h1v1h-1zM161 319h1v1h-1zM165 307h1v1h-1zM136 310h1v1h-1zM141 308h1v1h-1zM145 307h1v1h-1zM119 309h1v1h-1zM110 307h1v1h-1zM130 311h1v1h-1zM117 322h1v1h-1zM110 314h1v1h-1zM139 323h1v1h-1zM157 321h1v1h-1zM112 321h1v1h-1zM119 310h1v1h-1zM113 325h1v1h-1zM114 309h1v1h-1zM128 324h1v1h-1zM170 306h1v1h-1zM116 310h1v1h-1zM124 322h1v1h-1zM161 314h1v1h-1zM122 312h1v1h-1zM124 306h1v1h-1zM113 314h1v1h-1zM135 315h1v1h-1zM121 308h1v1h-1zM155 311h1v1h-1zM117 325h1v1h-1zM167 305h1v1h-1zM114 312h1v1h-1zM131 318h1v1h-1zM113 309h1v1h-1zM129 312h1v1h-1zM140 315h1v1h-1zM128 318h1v1h-1zM125 316h1v1h-1zM116 324h1v1h-1zM122 315h1v1h-1zM162 319h1v1h-1zM133 320h1v1h-1zM140 308h1v1h-1zM122 309h1v1h-1zM119 305h1v1h-1zM127 316h1v1h-1zM111 318h1v1h-1zM107 306h1v1h-1zM140 312h1v1h-1zM164 313h1v1h-1zM170 314h1v1h-1zM121 321h1v1h-1zM135 320h1v1h-1zM117 317h1v1h-1zM134 310h1v1h-1zM108 324h1v1h-1zM128 310h1v1h-1zM112 312h1v1h-1zM113 305h1v1h-1zM165 325h1v1h-1zM163 320h1v1h-1zM143 310h1v1h-1zM131 317h1v1h-1zM127 304h1v1h-1zM125 307h1v1h-1zM109 321h1v1h-1zM117 314h1v1h-1zM130 310h1v1h-1zM108 306h1v1h-1zM116 313h1v1h-1zM119 316h1v1h-1zM120 319h1v1h-1zM146 309h1v1h-1zM142 322h1v1h-1zM119 319h1v1h-1zM113 311h1v1h-1zM113 308h1v1h-1zM110 306h1v1h-1zM147 303h1v1h-1zM151 306h1v1h-1zM110 316h1v1h-1zM158 306h1v1h-1zM113 303h1v1h-1zM112 307h1v1h-1zM115 322h1v1h-1zM151 303h1v1h-1zM171 305h1v1h-1zM167 324h1v1h-1zM142 304h1v1h-1zM135 312h1v1h-1zM112 311h1v1h-1zM156 323h1v1h-1zM153 316h1v1h-1zM147 319h1v1h-1zM131 316h1v1h-1zM122 306h1v1h-1zM127 310h1v1h-1zM168 316h1v1h-1zM109 325h1v1h-1zM180 306h1v1h-1zM134 324h1v1h-1zM113 313h1v1h-1zM153 306h1v1h-1zM110 309h1v1h-1zM151 309h1v1h-1zM119 320h1v1h-1zM137 306h1v1h-1zM160 303h1v1h-1zM118 313h1v1h-1zM135 314h1v1h-1zM109 313h1v1h-1zM110 311h1v1h-1zM138 321h1v1h-1zM172 322h1v1h-1zM152 304h1v1h-1zM112 313h1v1h-1zM124 313h1v1h-1zM138 304h1v1h-1zM145 314h1v1h-1zM126 314h1v1h-1zM150 308h1v1h-1zM134 309h1v1h-1zM155 320h1v1h-1zM129 317h1v1h-1zM159 313h1v1h-1zM142 306h1v1h-1zM124 316h1v1h-1zM124 317h1v1h-1zM123 313h1v1h-1zM126 316h1v1h-1zM124 319h1v1h-1zM112 323h1v1h-1zM121 325h1v1h-1zM130 313h1v1h-1zM128 320h1v1h-1zM146 322h1v1h-1zM147 325h1v1h-1zM116 316h1v1h-1zM131 320h1v1h-1zM145 311h1v1h-1zM108 315h1v1h-1zM127 318h1v1h-1zM132 316h1v1h-1zM122 303h1v1h-1zM118 310h1v1h-1zM162 311h1v1h-1zM118 320h1v1h-1zM134 304h1v1h-1zM132 322h1v1h-1zM152 324h1v1h-1zM152 323h1v1h-1zM137 304h1v1h-1zM125 315h1v1h-1zM140 319h1v1h-1zM175 320h1v1h-1zM145 319h1v1h-1zM126 319h1v1h-1zM131 324h1v1h-1zM120 308h1v1h-1zM135 308h1v1h-1zM134 311h1v1h-1zM132 318h1v1h-1zM113 306h1v1h-1zM125 317h1v1h-1zM116 323h1v1h-1zM128 323h1v1h-1zM125 319h1v1h-1zM160 314h1v1h-1zM142 319h1v1h-1zM114 314h1v1h-1zM170 312h1v1h-1zM136 324h1v1h-1zM156 304h1v1h-1zM136 318h1v1h-1zM154 322h1v1h-1zM139 313h1v1h-1zM129 323h1v1h-1zM126 322h1v1h-1zM140 317h1v1h-1zM143 305h1v1h-1zM134 319h1v1h-1zM144 303h1v1h-1zM133 307h1v1h-1zM139 308h1v1h-1zM109 306h1v1h-1zM137 323h1v1h-1zM148 309h1v1h-1zM156 312h1v1h-1zM130 316h1v1h-1zM161 323h1v1h-1zM115 303h1v1h-1zM116 315h1v1h-1zM120 318h1v1h-1zM134 307h1v1h-1zM128 316h1v1h-1zM123 323h1v1h-1zM140 316h1v1h-1zM126 305h1v1h-1zM115 304h1v1h-1zM133 322h1v1h-1zM143 321h1v1h-1zM115 320h1v1h-1zM126 323h1v1h-1zM124 324h1v1h-1zM126 306h1v1h-1zM117 309h1v1h-1zM164 324h1v1h-1zM112 305h1v1h-1zM114 321h1v1h-1zM149 308h1v1h-1zM124 311h1v1h-1zM108 307h1v1h-1zM123 310h1v1h-1zM108 312h1v1h-1zM146 314h1v1h-1zM110 325h1v1h-1zM138 305h1v1h-1zM150 321h1v1h-1zM142 317h1v1h-1zM121 305h1v1h-1zM108 308h1v1h-1zM121 324h1v1h-1zM164 325h1v1h-1zM108 325h1v1h-1zM143 325h1v1h-1zM169 321h1v1h-1zM138 307h1v1h-1zM142 325h1v1h-1zM121 307h1v1h-1zM150 325h1v1h-1zM134 325h1v1h-1zM144 309h1v1h-1z" fill="#bcbcbc"/>
<path d="M86 313h1v1h-1zM87 319h1v1h-1zM86 304h1v1h-1zM92 312h1v1h-1zM85 315h1v1h-1zM91 322h1v1h-1zM96 315h1v1h-1zM79 307h1v1h-1zM91 323h1v1h-1zM88 313h1v1h-1zM94 305h1v1h-1zM84 317h1v1h-1zM98 312h1v1h-1zM93 316h1v1h-1zM97 307h1v1h-1zM95 304h1v1h-1zM57 310h1v1h-1zM77 320h1v1h-1zM96 306h1v1h-1zM98 307h1v1h-1zM87 312h1v1h-1zM89 319h1v1h-1zM96 316h1v1h-1zM96 317h1v1h-1zM80 309h1v1h-1zM82 317h1v1h-1zM78 307h1v1h-1zM97 323h1v1h-1zM94 319h1v1h-1zM105 313h1v1h-1zM71 311h1v1h-1zM99 305h1v1h-1zM88 316h1v1h-1zM84 319h1v1h-1zM95 310h1v1h-1zM81 309h1v1h-1zM99 310h1v1h-1zM79 312h1v1h-1zM66 307h1v1h-1zM81 317h1v1h-1zM102 314h1v1h-1zM91 315h1v1h-1zM101 320h1v1h-1zM91 307h1v1h-1zM99 316h1v1h-1zM103 314h1v1h-1zM111 312h1v1h-1zM107 315h1v1h-1zM82 307h1v1h-1zM86 323h1v1h-1zM98 318h1v1h-1zM59 319h1v1h-1zM80 314h1v1h-1zM109 307h1v1h-1zM83 323h1v1h-1zM83 312h1v1h-1zM89 306h1v1h-1zM91 306h1v1h-1zM99 314h1v1h-1zM115 316h1v1h-1zM104 306h1v1h-1zM87 316h1v1h-1zM109 303h1v1h-1zM100 318h1v1h-1zM106 319h1v1h-1zM89 311h1v1h-1zM73 315h1v1h-1zM81 316h1v1h-1zM69 311h1v1h-1zM91 319h1v1h-1zM105 314h1v1h-1zM75 317h1v1h-1zM94 317h1v1h-1zM80 321h1v1h-1zM103 318h1v1h-1zM91 312h1v1h-1zM89 324h1v1h-1zM89 317h1v1h-1zM102 311h1v1h-1zM67 316h1v1h-1zM91 310h1v1h-1zM76 317h1v1h-1zM93 314h1v1h-1zM79 317h1v1h-1zM94 310h1v1h-1zM93 321h1v1h-1zM79 316h1v1h-1zM66 319h1v1h-1zM84 313h1v1h-1zM111 314h1v1h-1zM115 311h1v1h-1zM92 311h1v1h-1zM86 325h1v1h-1zM76 316h1v1h-1zM126 308h1v1h-1zM70 310h1v1h-1zM103 312h1v1h-1zM103 317h1v1h-1zM65 314h1v1h-1zM95 316h1v1h-1zM73 309h1v1h-1zM95 311h1v1h-1zM74 309h1v1h-1zM74 318h1v1h-1zM60 312h1v1h-1zM93 324h1v1h-1zM89 321h1v1h-1zM83 309h1v1h-1zM80 324h1v1h-1zM100 317h1v1h-1zM128 314h1v1h-1zM106 305h1v1h-1zM83 317h1v1h-1zM97 305h1v1h-1zM61 302h1v1h-1zM87 313h1v1h-1zM92 309h1v1h-1zM73 301h1v1h-1zM92 316h1v1h-1zM100 319h1v1h-1zM86 310h1v1h-1zM82 310h1v1h-1zM62 315h1v1h-1zM109 314h1v1h-1zM87 306h1v1h-1zM86 314h1v1h-1zM110 320h1v1h-1zM100 309h1v1h-1zM96 307h1v1h-1zM92 317h1v1h-1zM95 302h1v1h-1zM88 317h1v1h-1zM93 301h1v1h-1zM74 319h1v1h-1zM110 301h1v1h-1zM97 302h1v1h-1zM107 316h1v1h-1zM96 302h1v1h-1zM104 305h1v1h-1zM78 315h1v1h-1zM90 310h1v1h-1zM77 325h1v1h-1zM97 313h1v1h-1zM103 313h1v1h-1zM94 313h1v1h-1zM95 313h1v1h-1zM87 308h1v1h-1zM77 309h1v1h-1zM76 320h1v1h-1zM87 324h1v1h-1zM115 314h1v1h-1zM69 312h1v1h-1zM87 304h1v1h-1zM85 316h1v1h-1zM82 309h1v1h-1zM86 309h1v1h-1zM84 320h1v1h-1zM80 317h1v1h-1zM97 319h1v1h-1zM105 310h1v1h-1zM102 309h1v1h-1zM83 322h1v1h-1zM98 314h1v1h-1zM80 308h1v1h-1zM80 316h1v1h-1zM63 316h1v1h-1zM81 310h1v1h-1zM96 304h1v1h-1zM84 310h1v1h-1zM89 315h1v1h-1zM88 321h1v1h-1zM73 319h1v1h-1zM94 323h1v1h-1zM79 314h1v1h-1zM88 303h1v1h-1zM84 314h1v1h-1zM67 317h1v1h-1zM70 297h1v1h-1zM64 305h1v1h-1zM101 308h1v1h-1zM85 306h1v1h-1zM95 307h1v1h-1zM104 308h1v1h-1zM79 315h1v1h-1zM88 323h1v1h-1zM97 316h1v1h-1zM87 320h1v1h-1zM82 313h1v1h-1zM90 324h1v1h-1zM75 318h1v1h-1zM65 321h1v1h-1zM72 309h1v1h-1zM101 305h1v1h-1zM87 314h1v1h-1zM76 323h1v1h-1zM106 301h1v1h-1zM71 319h1v1h-1zM72 311h1v1h-1zM90 318h1v1h-1zM79 322h1v1h-1zM82 316h1v1h-1zM82 315h1v1h-1zM76 319h1v1h-1zM105 316h1v1h-1zM91 320h1v1h-1zM89 308h1v1h-1zM88 302h1v1h-1zM103 315h1v1h-1zM76 305h1v1h-1zM96 313h1v1h-1zM95 314h1v1h-1zM101 321h1v1h-1zM80 312h1v1h-1zM82 303h1v1h-1zM96 322h1v1h-1zM88 311h1v1h-1zM101 299h1v1h-1zM90 315h1v1h-1zM81 323h1v1h-1zM100 312h1v1h-1zM87 311h1v1h-1zM82 305h1v1h-1zM105 321h1v1h-1zM90 308h1v1h-1zM78 317h1v1h-1zM77 314h1v1h-1zM101 304h1v1h-1zM112 324h1v1h-1zM73 305h1v1h-1zM85 307h1v1h-1zM85 297h1v1h-1zM75 312h1v1h-1zM70 318h1v1h-1zM90 312h1v1h-1zM72 316h1v1h-1zM86 315h1v1h-1zM93 311h1v1h-1zM93 325h1v1h-1zM75 325h1v1h-1zM85 309h1v1h-1zM117 315h1v1h-1zM104 319h1v1h-1zM68 315h1v1h-1zM67 315h1v1h-1zM95 317h1v1h-1zM84 309h1v1h-1zM76 310h1v1h-1zM76 313h1v1h-1zM88 308h1v1h-1zM90 317h1v1h-1zM68 312h1v1h-1zM91 318h1v1h-1zM69 315h1v1h-1zM102 313h1v1h-1zM87 317h1v1h-1zM79 313h1v1h-1zM86 311h1v1h-1zM97 308h1v1h-1zM99 308h1v1h-1zM75 315h1v1h-1zM90 316h1v1h-1zM101 311h1v1h-1zM93 308h1v1h-1zM94 315h1v1h-1zM94 314h1v1h-1zM89 305h1v1h-1zM75 313h1v1h-1zM76 308h1v1h-1zM86 298h1v1h-1zM84 311h1v1h-1zM101 314h1v1h-1zM80 311h1v1h-1zM84 307h1v1h-1zM78 300h1v1h-1zM92 305h1v1h-1zM72 303h1v1h-1zM93 319h1v1h-1zM88 306h1v1h-1zM81 305h1v1h-1zM83 314h1v1h-1zM100 316h1v1h-1zM84 318h1v1h-1zM114 323h1v1h-1zM133 306h1v1h-1zM108 317h1v1h-1zM71 316h1v1h-1zM95 312h1v1h-1zM82 319h1v1h-1zM77 303h1v1h-1zM79 323h1v1h-1zM94 306h1v1h-1zM78 316h1v1h-1zM76 318h1v1h-1zM106 313h1v1h-1zM76 312h1v1h-1zM92 320h1v1h-1zM89 310h1v1h-1zM62 309h1v1h-1zM71 318h1v1h-1zM81 311h1v1h-1zM96 321h1v1h-1zM83 313h1v1h-1zM114 313h1v1h-1zM77 312h1v1h-1zM101 310h1v1h-1zM105 305h1v1h-1zM85 325h1v1h-1zM64 322h1v1h-1zM66 313h1v1h-1zM86 319h1v1h-1zM50 302h1v1h-1zM81 314h1v1h-1zM77 313h1v1h-1zM74 311h1v1h-1zM95 323h1v1h-1zM89 312h1v1h-1zM92 308h1v1h-1zM77 304h1v1h-1zM102 316h1v1h-1zM68 307h1v1h-1zM97 309h1v1h-1zM86 307h1v1h-1zM57 317h1v1h-1zM78 322h1v1h-1zM74 304h1v1h-1zM102 304h1v1h-1zM80 318h1v1h-1zM84 303h1v1h-1zM90 313h1v1h-1zM124 303h1v1h-1zM88 307h1v1h-1zM102 319h1v1h-1zM79 301h1v1h-1zM109 317h1v1h-1zM85 320h1v1h-1zM97 320h1v1h-1zM69 309h1v1h-1zM99 307h1v1h-1zM96 320h1v1h-1zM88 319h1v1h-1zM110 315h1v1h-1zM103 308h1v1h-1zM95 320h1v1h-1zM79 321h1v1h-1zM74 310h1v1h-1zM86 322h1v1h-1zM80 304h1v1h-1zM104 317h1v1h-1zM62 314h1v1h-1zM83 325h1v1h-1zM79 310h1v1h-1zM77 307h1v1h-1zM80 305h1v1h-1zM76 304h1v1h-1zM70 304h1v1h-1zM73 317h1v1h-1zM82 324h1v1h-1zM91 317h1v1h-1zM62 311h1v1h-1zM92 310h1v1h-1zM94 307h1v1h-1zM85 317h1v1h-1zM111 311h1v1h-1zM83 296h1v1h-1zM109 312h1v1h-1zM74 323h1v1h-1zM71 317h1v1h-1zM81 306h1v1h-1zM101 300h1v1h-1zM113 316h1v1h-1zM63 309h1v1h-1zM89 316h1v1h-1zM100 301h1v1h-1zM83 321h1v1h-1zM109 322h1v1h-1zM79 305h1v1h-1zM88 310h1v1h-1zM83 316h1v1h-1zM76 314h1v1h-1zM91 313h1v1h-1zM79 319h1v1h-1zM110 310h1v1h-1zM103 320h1v1h-1zM56 309h1v1h-1zM80 319h1v1h-1zM96 308h1v1h-1zM79 306h1v1h-1zM90 309h1v1h-1zM99 320h1v1h-1zM107 319h1v1h-1zM103 325h1v1h-1zM112 314h1v1h-1zM88 318h1v1h-1zM109 315h1v1h-1zM89 320h1v1h-1zM99 319h1v1h-1zM92 313h1v1h-1zM76 315h1v1h-1zM83 307h1v1h-1zM102 318h1v1h-1zM78 308h1v1h-1zM84 312h1v1h-1zM81 302h1v1h-1zM80 315h1v1h-1zM81 320h1v1h-1zM83 315h1v1h-1zM72 318h1v1h-1zM91 311h1v1h-1zM104 320h1v1h-1zM75 310h1v1h-1zM77 322h1v1h-1zM88 301h1v1h-1zM82 297h1v1h-1zM81 312h1v1h-1zM83 310h1v1h-1zM106 322h1v1h-1zM74 322h1v1h-1zM70 306h1v1h-1zM66 315h1v1h-1zM52 313h1v1h-1zM83 308h1v1h-1zM104 311h1v1h-1zM96 324h1v1h-1zM60 311h1v1h-1zM65 320h1v1h-1zM77 317h1v1h-1zM62 312h1v1h-1zM55 317h1v1h-1zM104 314h1v1h-1zM90 314h1v1h-1zM95 305h1v1h-1zM106 315h1v1h-1zM102 320h1v1h-1zM80 322h1v1h-1zM69 324h1v1h-1zM53 321h1v1h-1zM49 309h1v1h-1zM74 312h1v1h-1zM78 311h1v1h-1zM49 306h1v1h-1zM75 308h1v1h-1zM106 309h1v1h-1zM58 307h1v1h-1zM59 318h1v1h-1zM73 304h1v1h-1zM92 322h1v1h-1zM52 305h1v1h-1zM83 318h1v1h-1zM66 318h1v1h-1zM53 306h1v1h-1zM59 320h1v1h-1zM78 313h1v1h-1zM56 312h1v1h-1zM89 318h1v1h-1zM51 312h1v1h-1zM98 315h1v1h-1zM53 304h1v1h-1zM64 316h1v1h-1zM58 314h1v1h-1zM92 321h1v1h-1zM55 322h1v1h-1zM97 304h1v1h-1zM97 321h1v1h-1zM75 311h1v1h-1zM107 322h1v1h-1zM62 322h1v1h-1zM58 306h1v1h-1zM60 308h1v1h-1zM52 311h1v1h-1zM65 316h1v1h-1zM65 309h1v1h-1zM88 305h1v1h-1zM105 322h1v1h-1zM99 306h1v1h-1zM90 323h1v1h-1zM64 313h1v1h-1zM78 310h1v1h-1zM69 305h1v1h-1zM73 308h1v1h-1zM64 323h1v1h-1zM68 317h1v1h-1zM81 315h1v1h-1zM68 319h1v1h-1zM51 305h1v1h-1zM81 278h1v1h-1zM88 290h1v1h-1zM91 295h1v1h-1zM84 296h1v1h-1zM96 294h1v1h-1zM80 295h1v1h-1zM88 295h1v1h-1zM101 294h1v1h-1zM81 297h1v1h-1zM71 282h1v1h-1zM91 279h1v1h-1zM69 284h1v1h-1zM69 291h1v1h-1zM99 280h1v1h-1zM68 288h1v1h-1zM91 275h1v1h-1zM84 285h1v1h-1zM111 286h1v1h-1zM89 284h1v1h-1zM63 300h1v1h-1zM59 300h1v1h-1zM75 276h1v1h-1zM86 308h1v1h-1zM84 294h1v1h-1zM69 293h1v1h-1zM90 276h1v1h-1zM78 287h1v1h-1zM83 291h1v1h-1zM74 280h1v1h-1zM106 280h1v1h-1zM83 286h1v1h-1zM84 299h1v1h-1zM82 296h1v1h-1zM79 295h1v1h-1zM105 293h1v1h-1zM86 268h1v1h-1zM149 269h1v1h-1zM149 273h1v1h-1zM172 293h1v1h-1zM168 294h1v1h-1zM157 286h1v1h-1zM159 270h1v1h-1zM150 292h1v1h-1zM149 284h1v1h-1zM163 290h1v1h-1zM161 269h1v1h-1zM151 260h1v1h-1zM161 265h1v1h-1zM146 301h1v1h-1zM150 277h1v1h-1zM151 274h1v1h-1zM164 279h1v1h-1zM158 258h1v1h-1zM154 291h1v1h-1zM153 272h1v1h-1zM161 289h1v1h-1zM160 276h1v1h-1zM163 300h1v1h-1zM166 265h1v1h-1zM179 267h1v1h-1zM149 285h1v1h-1zM167 292h1v1h-1zM152 283h1v1h-1zM165 294h1v1h-1zM166 291h1v1h-1zM163 276h1v1h-1zM149 287h1v1h-1zM155 296h1v1h-1zM152 278h1v1h-1zM155 293h1v1h-1zM163 282h1v1h-1zM160 300h1v1h-1zM146 290h1v1h-1zM130 307h1v1h-1zM146 304h1v1h-1zM123 324h1v1h-1zM157 317h1v1h-1zM123 314h1v1h-1zM108 319h1v1h-1zM117 306h1v1h-1zM125 314h1v1h-1zM111 325h1v1h-1zM141 314h1v1h-1zM115 318h1v1h-1zM150 320h1v1h-1zM163 321h1v1h-1zM118 306h1v1h-1zM109 324h1v1h-1zM136 305h1v1h-1zM134 320h1v1h-1zM127 321h1v1h-1zM116 309h1v1h-1zM137 320h1v1h-1zM151 316h1v1h-1zM116 307h1v1h-1zM159 311h1v1h-1zM126 313h1v1h-1zM111 315h1v1h-1zM113 310h1v1h-1zM124 304h1v1h-1zM122 310h1v1h-1zM141 303h1v1h-1zM122 314h1v1h-1zM163 312h1v1h-1zM136 307h1v1h-1zM173 314h1v1h-1zM166 310h1v1h-1zM161 305h1v1h-1zM154 306h1v1h-1zM132 312h1v1h-1zM137 315h1v1h-1zM130 321h1v1h-1zM121 316h1v1h-1zM147 318h1v1h-1zM114 322h1v1h-1zM121 319h1v1h-1zM128 319h1v1h-1zM132 304h1v1h-1zM112 318h1v1h-1zM131 306h1v1h-1zM116 303h1v1h-1zM117 318h1v1h-1zM128 307h1v1h-1zM143 319h1v1h-1zM114 316h1v1h-1zM146 305h1v1h-1zM178 323h1v1h-1zM133 323h1v1h-1zM108 314h1v1h-1zM116 305h1v1h-1zM124 315h1v1h-1zM111 319h1v1h-1zM149 319h1v1h-1zM109 305h1v1h-1zM114 319h1v1h-1zM145 317h1v1h-1z" fill="#858585"/>
<path d="M99 304h1v1h-1zM94 308h1v1h-1zM90 313h1v1h-1zM99 310h1v1h-1zM91 317h1v1h-1zM90 310h1v1h-1zM91 314h1v1h-1zM95 310h1v1h-1zM89 315h1v1h-1zM90 313h1v1h-1zM91 311h1v1h-1zM87 316h1v1h-1zM86 319h1v1h-1zM92 308h1v1h-1zM92 315h1v1h-1zM95 319h1v1h-1zM89 311h1v1h-1zM88 310h1v1h-1zM87 315h1v1h-1zM91 312h1v1h-1zM87 316h1v1h-1zM88 309h1v1h-1zM90 313h1v1h-1zM86 318h1v1h-1zM95 314h1v1h-1zM92 316h1v1h-1zM91 318h1v1h-1zM99 314h1v1h-1zM93 318h1v1h-1zM89 309h1v1h-1zM96 307h1v1h-1zM100 318h1v1h-1zM92 314h1v1h-1zM100 310h1v1h-1zM85 311h1v1h-1zM90 309h1v1h-1zM92 315h1v1h-1zM87 321h1v1h-1zM84 308h1v1h-1zM93 313h1v1h-1zM93 311h1v1h-1zM86 311h1v1h-1zM88 316h1v1h-1zM89 317h1v1h-1zM94 319h1v1h-1zM96 318h1v1h-1zM95 312h1v1h-1zM90 306h1v1h-1zM92 311h1v1h-1zM93 316h1v1h-1zM84 309h1v1h-1zM89 312h1v1h-1zM92 309h1v1h-1zM91 306h1v1h-1zM80 317h1v1h-1zM84 311h1v1h-1zM84 308h1v1h-1zM89 312h1v1h-1zM96 316h1v1h-1zM90 317h1v1h-1zM97 316h1v1h-1zM89 319h1v1h-1zM100 317h1v1h-1zM100 318h1v1h-1zM95 309h1v1h-1zM85 314h1v1h-1zM83 311h1v1h-1zM95 311h1v1h-1zM94 308h1v1h-1zM89 319h1v1h-1zM92 315h1v1h-1zM100 320h1v1h-1zM87 320h1v1h-1zM88 314h1v1h-1zM91 319h1v1h-1zM85 316h1v1h-1zM94 318h1v1h-1zM90 319h1v1h-1zM87 319h1v1h-1zM93 308h1v1h-1zM93 315h1v1h-1zM89 311h1v1h-1zM90 308h1v1h-1zM99 309h1v1h-1zM88 319h1v1h-1zM94 317h1v1h-1zM99 313h1v1h-1zM86 318h1v1h-1zM95 313h1v1h-1zM85 320h1v1h-1zM94 308h1v1h-1zM95 308h1v1h-1zM89 309h1v1h-1zM88 310h1v1h-1zM88 317h1v1h-1zM92 317h1v1h-1zM96 312h1v1h-1zM91 316h1v1h-1zM100 318h1v1h-1zM98 319h1v1h-1zM96 306h1v1h-1zM95 315h1v1h-1zM91 312h1v1h-1zM89 316h1v1h-1zM95 307h1v1h-1zM92 311h1v1h-1zM86 316h1v1h-1zM89 311h1v1h-1zM87 315h1v1h-1zM91 309h1v1h-1z" fill="#555"/>
<rect x="47.5" y="229.5" width="140" height="98" fill="none" stroke="#888" stroke-width="1"/>
<path d="M107.5 229.5V327.5M47.5 302.5H187.5" stroke="#555" stroke-width="0.9"/>
<path d="M47.5 229.5V327.5" stroke="#777" stroke-width="1"/>
<path d="M47.5 229.5V327.5" stroke="#333" stroke-width="1" stroke-dasharray="0.8 2.6"/>
<path d="M47.5 327.5H187.5" stroke="#666" stroke-width="1"/>
<path d="M47.5 327.5H187.5" stroke="#222" stroke-width="1" stroke-dasharray="0.8 2.2"/>
<text x="58.8" y="246.6" font-size="10.6">13.8</text>
<text x="157.3" y="246.8" font-size="10.6">10.4</text>
<text x="157.0" y="318.8" font-size="11.2">10.3</text>
<path d="M23.5 232V319" stroke="#000" stroke-width="1.1"/>
<path d="M23.5 225.6L27.4 233.6H19.6Z" fill="#000"/>
<path d="M50.8 346.8H177" stroke="#000" stroke-width="1.1"/>
<path d="M184.4 346.8L175.4 342.5V351.1Z" fill="#000"/>
<text transform="translate(10 276.4) rotate(-90) scale(1.04 1)" font-size="11.2" text-anchor="middle">CCR6</text>
<text x="92" y="359.6" font-size="11.2">CD103</text>
<text x="45.6" y="327" font-size="6.6" fill="#333" text-anchor="middle" transform="rotate(-90 45.6 327)">10<tspan font-size="4.6" dy="-2.4">0</tspan></text>
<text x="45.6" y="302.5" font-size="6.6" fill="#333" text-anchor="middle" transform="rotate(-90 45.6 302.5)">10<tspan font-size="4.6" dy="-2.4">1</tspan></text>
<text x="45.6" y="278" font-size="6.6" fill="#333" text-anchor="middle" transform="rotate(-90 45.6 278)">10<tspan font-size="4.6" dy="-2.4">2</tspan></text>
<text x="45.6" y="254" font-size="6.6" fill="#333" text-anchor="middle" transform="rotate(-90 45.6 254)">10<tspan font-size="4.6" dy="-2.4">3</tspan></text>
<text x="45.6" y="229.5" font-size="6.6" fill="#333" text-anchor="middle" transform="rotate(-90 45.6 229.5)">10<tspan font-size="4.6" dy="-2.4">4</tspan></text>
<text x="49" y="335.6" font-size="6.6" fill="#333" text-anchor="middle">10<tspan font-size="4.6" dy="-2.4">0</tspan></text>
<text x="83.2" y="335.6" font-size="6.6" fill="#333" text-anchor="middle">10<tspan font-size="4.6" dy="-2.4">1</tspan></text>
<text x="118.4" y="335.6" font-size="6.6" fill="#333" text-anchor="middle">10<tspan font-size="4.6" dy="-2.4">2</tspan></text>
<text x="152.5" y="335.6" font-size="6.6" fill="#333" text-anchor="middle">10<tspan font-size="4.6" dy="-2.4">3</tspan></text>
<text x="186.6" y="335.6" font-size="6.6" fill="#333" text-anchor="middle">10<tspan font-size="4.6" dy="-2.4">4</tspan></text>
<text x="35.4" y="279.3" font-size="5.6" fill="#333" text-anchor="middle" transform="rotate(-90 35.4 279.3)">FL2-H</text>
<text x="117.3" y="343.6" font-size="5.6" fill="#333" text-anchor="middle">FL4-H</text>
<path d="M47.5 229.5h-1.5M47.5 254h-1.5M47.5 278h-1.5M47.5 302.5h-1.5M47.5 327.5h-1.5M47.5 327.5v1.5M82.5 327.5v1.5M117.5 327.5v1.5M152.5 327.5v1.5M187.5 327.5v1.5" stroke="#333" stroke-width="0.6"/>
<text x="253.4" y="217.0" font-size="24.2" font-weight="bold" stroke="#000" stroke-width="0.5">C</text>
<text x="338.3" y="219.6" font-size="11.2">FoxP3 expression</text>
<rect x="296.5" y="224.8" width="171.4" height="123.8" fill="none" stroke="#888" stroke-width="1.1"/>
<path d="M296.5 341.5H467.9" stroke="#777" stroke-width="1"/>
<path d="M296.5 341.5h-2.6M296.5 334.12h-1.4M296.5 326.75h-1.4M296.5 319.38h-1.4M296.5 312h-2.6M296.5 304.62h-1.4M296.5 297.25h-1.4M296.5 289.88h-1.4M296.5 282.5h-2.6M296.5 275.12h-1.4M296.5 267.75h-1.4M296.5 260.38h-1.4M296.5 253h-2.6M296.5 245.62h-1.4M296.5 238.25h-1.4M296.5 230.88h-1.4M349.2 348.6v2.5M415.4 348.6v2.5" stroke="#777" stroke-width="0.8"/>
<text x="291.8" y="345.2" font-size="10.8" text-anchor="end">0</text>
<text x="291.8" y="315.7" font-size="10.8" text-anchor="end">200</text>
<text x="291.8" y="286.2" font-size="10.8" text-anchor="end">400</text>
<text x="291.8" y="256.7" font-size="10.8" text-anchor="end">600</text>
<text transform="translate(265.3 286.1) rotate(-90) scale(1.09 1)" font-size="13.1" text-anchor="middle">fold expression</text>
<rect x="306.5" y="237.7" width="26.5" height="6.3" fill="#fff" stroke="#555" stroke-width="0.9"/>
<rect x="306.5" y="250.8" width="26.5" height="5.7" fill="#b4b4b4" stroke="#555" stroke-width="0.9"/>
<text x="339.6" y="245.2" font-size="11">CCR6-</text>
<text x="339.6" y="258" font-size="11">CCR6+</text>
<path d="M359.5 333.1V329.5M356.75 329.5h5.5" stroke="#666" stroke-width="0.9"/>
<rect x="353.4" y="333.1" width="12.3" height="8.4" fill="#b4b4b4" stroke="#555" stroke-width="0.9"/>
<path d="M405.6 260.3V248.4M402.85 248.4h5.5" stroke="#666" stroke-width="0.9"/>
<rect x="399.3" y="260.3" width="12.5" height="81.2" fill="#fff" stroke="#555" stroke-width="0.9"/>
<path d="M425.5 263.2V255.6M422.75 255.6h5.5" stroke="#666" stroke-width="0.9"/>
<rect x="419.5" y="263.2" width="11.9" height="78.3" fill="#b4b4b4" stroke="#555" stroke-width="0.9"/>
<text x="314.2" y="363.2" font-size="11.8">CD4+CD25-</text>
<text x="385.6" y="363.2" font-size="11.7">CD4+CD25+</text>
<text x="-0.6" y="384.2" font-size="24.2" font-weight="bold" stroke="#000" stroke-width="0.5">D</text>
<path d="M40.4 387.5H144.7V516.3" fill="none" stroke="#999" stroke-width="1"/>
<path d="M40.4 387.5V516.3H144.7" fill="none" stroke="#777" stroke-width="1"/>
<path d="M40.4 516.3h-2M40.4 494.12h-2M40.4 471.94h-2M40.4 449.76h-2M40.4 427.58h-2M40.4 405.4h-2M72.5 516.3v2M112.9 516.3v2" stroke="#777" stroke-width="0.8"/>
<text x="36.8" y="519.3" font-size="8.4" text-anchor="end" fill="#111">0</text>
<text x="36.8" y="497.12" font-size="8.4" text-anchor="end" fill="#111">500</text>
<text x="36.8" y="474.94" font-size="8.4" text-anchor="end" fill="#111">1000</text>
<text x="36.8" y="452.76" font-size="8.4" text-anchor="end" fill="#111">1500</text>
<text x="36.8" y="430.58" font-size="8.4" text-anchor="end" fill="#111">2000</text>
<text x="36.8" y="408.4" font-size="8.4" text-anchor="end" fill="#111">2500</text>
<text transform="translate(9.9 451.8) rotate(-90) scale(1 1)" font-size="11.8" text-anchor="middle">proliferation [cpm]</text>
<rect x="50.6" y="394.4" width="15.6" height="4.2" rx="0.8" fill="#fff" stroke="#888" stroke-width="0.9"/>
<rect x="50.6" y="405.1" width="15.6" height="4.2" rx="0.6" fill="#a8a8a8" stroke="#999" stroke-width="0.7"/>
<text x="69.2" y="399.9" font-size="9">CD25+CCR6-</text>
<text x="69.2" y="410.6" font-size="9">CD25+CCR6+</text>
<path d="M66.3 514.3V512.5M63.8 512.5h5" stroke="#777" stroke-width="0.8"/>
<rect x="63" y="514.3" width="6.6" height="2" fill="#fff" stroke="#888" stroke-width="0.8"/>
<path d="M78.2 513.3V510.6M75.7 510.6h5" stroke="#777" stroke-width="0.8"/>
<rect x="74.4" y="513.3" width="7.7" height="3" fill="#aaa" stroke="#888" stroke-width="0.8"/>
<path d="M106.6 432.5V414.4M104.1 414.4h5" stroke="#777" stroke-width="0.8"/>
<rect x="103" y="432.5" width="7.2" height="83.8" fill="#fff" stroke="#888" stroke-width="0.8"/>
<path d="M118.8 452.6V419.5M116.3 419.5h5" stroke="#777" stroke-width="0.8"/>
<rect x="115.1" y="452.6" width="7.5" height="63.7" fill="#aaa" stroke="#888" stroke-width="0.8"/>
<text x="46.4" y="527.6" font-size="9">without IL-2</text>
<text x="98.4" y="527.6" font-size="8.6">with IL-2</text>
<text x="164.2" y="384.1" font-size="24.2" font-weight="bold" stroke="#000" stroke-width="0.5">E</text>
<path d="M213.6 388.5H391.8V495.8" fill="none" stroke="#999" stroke-width="1"/>
<path d="M213.6 388.5V495.8H391.8" fill="none" stroke="#777" stroke-width="1"/>
<path d="M213.6 495.8h-2.6M213.6 468.45h-2.6M213.6 441.1h-2.6M213.6 413.75h-2.6M238.6 495.8v2.4M270.5 495.8v2.4M302.3 495.8v2.4M334 495.8v2.4M365.8 495.8v2.4" stroke="#777" stroke-width="0.8"/>
<text x="209.9" y="499.3" font-size="9.8" text-anchor="end">0</text>
<text x="209.9" y="471.95" font-size="9.8" text-anchor="end">10000</text>
<text x="209.9" y="444.6" font-size="9.8" text-anchor="end">20000</text>
<text x="209.9" y="417.25" font-size="9.8" text-anchor="end">30000</text>
<text transform="translate(176.4 442.3) rotate(-90) scale(1.05 1)" font-size="12" text-anchor="middle">proliferation [cpm]</text>
<text x="238.6" y="507.8" font-size="10.4" text-anchor="middle">O</text>
<text x="270.5" y="507.8" font-size="10.4" text-anchor="middle">O.O3</text>
<text x="302.3" y="507.8" font-size="10.4" text-anchor="middle">O.11</text>
<text x="334" y="507.8" font-size="10.4" text-anchor="middle">O.33</text>
<text x="365.8" y="507.8" font-size="10.4" text-anchor="middle">1.OO</text>
<text x="214" y="523.1" font-size="10.4">ratio CD25+CD4+/CD25-CD4+ T cells</text>
<path d="M238.6 406.5V448.3M236.8 406.5h3.6M236.8 448.3h3.6M238.6 413.1V437.4M236.8 413.1h3.6M236.8 437.4h3.6M270.5 465V479.5M268.7 465h3.6M268.7 479.5h3.6M270.5 470.5V488.5M268.7 470.5h3.6M268.7 488.5h3.6M302.3 482V486.5M300.5 482h3.6M300.5 486.5h3.6M302.3 484.5V490M300.5 484.5h3.6M300.5 490h3.6M334 489.5V492M332.2 489.5h3.6M332.2 492h3.6" stroke="#777" stroke-width="0.8" fill="none"/>
<path d="M238.6 427.3C243.92 434.8 259.88 462.82 270.5 472.3C281.12 481.78 291.72 481.13 302.3 484.2C312.88 487.27 323.42 488.85 334 490.7C344.58 492.55 360.5 494.53 365.8 495.3" fill="none" stroke="#333" stroke-width="0.9"/>
<path d="M238.6 425.5C243.92 434.33 259.88 468.25 270.5 478.5C281.12 488.75 291.72 484.5 302.3 487C312.88 489.5 323.42 492.08 334 493.5C344.58 494.92 360.5 495.17 365.8 495.5" fill="none" stroke="#555" stroke-width="0.9" stroke-dasharray="7 3"/>
<circle cx="238.6" cy="427.3" r="3.1" fill="#000"/>
<circle cx="270.5" cy="472.3" r="3.1" fill="#000"/>
<circle cx="302.3" cy="484.2" r="3.1" fill="#000"/>
<circle cx="334" cy="490.7" r="3.1" fill="#000"/>
<circle cx="365.8" cy="495.3" r="3.1" fill="#000"/>
<circle cx="238.6" cy="425.5" r="2.9" fill="#fff" stroke="#444" stroke-width="0.9"/>
<circle cx="270.5" cy="478.5" r="2.9" fill="#fff" stroke="#444" stroke-width="0.9"/>
<circle cx="302.3" cy="487" r="2.9" fill="#fff" stroke="#444" stroke-width="0.9"/>
<circle cx="334" cy="493.5" r="2.9" fill="#fff" stroke="#444" stroke-width="0.9"/>
<circle cx="365.8" cy="495.5" r="2.9" fill="#fff" stroke="#444" stroke-width="0.9"/>
<path d="M270.4 404.2H306.1" stroke="#333" stroke-width="0.9"/>
<circle cx="288.3" cy="404.2" r="3.2" fill="#000"/>
<path d="M270.4 416.3H278.8M282.5 416.3H285M291.5 416.3H294.2M294.2 416.3H302.5" stroke="#555" stroke-width="0.9"/>
<circle cx="288.3" cy="416.3" r="3" fill="#fff" stroke="#555" stroke-width="0.9"/>
<text x="314.4" y="408.4" font-size="10.3">CD25+ CCR6+</text>
<text x="314.4" y="420.4" font-size="10.3">CD25+ CCR6-</text>
<path d="M434.4 390.6H517.5V496.2" fill="none" stroke="#999" stroke-width="1"/>
<path d="M434.4 390.6V496.2H517.5" fill="none" stroke="#777" stroke-width="1"/>
<path d="M434.4 496.2h-2.6M434.4 465.86h-2.6M434.4 435.52h-2.6M434.4 405.18h-2.6" stroke="#777" stroke-width="0.8"/>
<text x="430.4" y="499.8" font-size="10.2" text-anchor="end">0</text>
<text x="430.4" y="469.46" font-size="10.2" text-anchor="end">20000</text>
<text x="430.4" y="439.12" font-size="10.2" text-anchor="end">40000</text>
<text x="430.4" y="408.78" font-size="10.2" text-anchor="end">60000</text>
<path d="M449.55 428.6V425.6M447.05 425.6h5" stroke="#777" stroke-width="0.8"/>
<rect x="444.6" y="428.6" width="9.9" height="67.6" fill="#b0b0b0" stroke="#777" stroke-width="0.8"/>
<path d="M479.55 486.6V483.6M477.05 483.6h5" stroke="#777" stroke-width="0.8"/>
<rect x="474.6" y="486.6" width="9.9" height="9.6" fill="#b0b0b0" stroke="#777" stroke-width="0.8"/>
<path d="M503.65 429.2V422.6M501.15 422.6h5" stroke="#777" stroke-width="0.8"/>
<rect x="498.7" y="429.2" width="9.9" height="67" fill="#b0b0b0" stroke="#777" stroke-width="0.8"/>
<text x="444.2" y="506.8" font-size="8.6">none</text>
<text x="466.8" y="504.4" font-size="7.3">CCR6+</text>
<text x="468.2" y="511.9" font-size="7.3">CD25+</text>
<text x="492.4" y="504.4" font-size="7.3">CCR6+</text>
<text x="494.6" y="511.9" font-size="7.3">CD25-</text>
</svg>
</body></html>
